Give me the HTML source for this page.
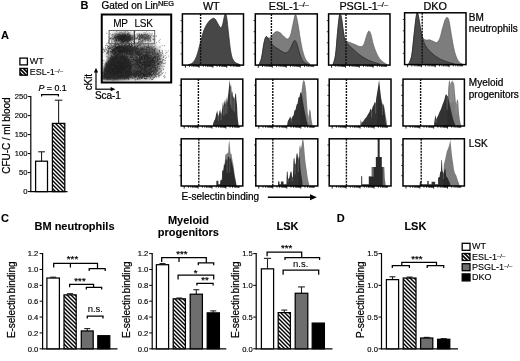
<!DOCTYPE html>
<html><head><meta charset="utf-8"><title>Figure</title><style>
html,body{margin:0;padding:0;background:#fff;}
svg{display:block;will-change:transform;filter:grayscale(1);}
text{font-family:"Liberation Sans",sans-serif;fill:#000;stroke:#000;stroke-width:0.24px;}
text[font-weight="bold"]{stroke-width:0.1px;}
</style></head><body>
<svg width="520" height="361" viewBox="0 0 520 361">
<defs>
<pattern id="hatch" patternUnits="userSpaceOnUse" width="4" height="4" patternTransform="translate(0,0)"><rect width="4" height="4" fill="#fff"/><path d="M-12,-4 L0,8 M-8,-4 L4,8 M-4,-4 L8,8 M0,-4 L12,8 " stroke="#000" stroke-width="1.42"/></pattern>
<pattern id="hatchS" patternUnits="userSpaceOnUse" width="4" height="4" patternTransform="translate(0,1)"><rect width="4" height="4" fill="#fff"/><path d="M-12,-4 L0,8 M-8,-4 L4,8 M-4,-4 L8,8 M0,-4 L12,8 " stroke="#000" stroke-width="1.6"/></pattern>
<filter id="blur1" x="-20%" y="-20%" width="140%" height="140%"><feGaussianBlur stdDeviation="0.45"/></filter>
<clipPath id="scclip"><rect x="102" y="15.5" width="68.5" height="66.5"/></clipPath>
</defs>
<rect x="0" y="0" width="520" height="361" fill="#fff"/>
<text x="1.0" y="39.2" font-size="11" font-weight="bold" text-anchor="start"  >A</text>
<rect x="19.9" y="58.1" width="7.5" height="6.8" fill="#fff" stroke="#000" stroke-width="1.3" />
<rect x="19.9" y="68.4" width="7.5" height="6.8" fill="url(#hatchS)" stroke="#000" stroke-width="1.3" />
<text x="29.8" y="64.4" font-size="9" font-weight="normal" text-anchor="start"  style="stroke-width:0.12px">WT</text>
<text x="29.8" y="74.7" font-size="9" font-weight="normal" text-anchor="start"  style="stroke-width:0.12px">ESL-1<tspan font-size="5.94" dy="-2.16">–/–</tspan></text>
<text x="38.5" y="90.7" font-size="8.8"><tspan font-style="italic">P</tspan> = 0.1</text>
<path d="M41.6,96.39999999999999 V94.6 H58.4 V96.39999999999999" stroke="#000" stroke-width="1.25" fill="none" />
<line x1="30.8" y1="95.9" x2="30.8" y2="192.1" stroke="#000" stroke-width="1.2" />
<line x1="30.3" y1="191.6" x2="67.5" y2="191.6" stroke="#000" stroke-width="1.2" />
<line x1="27.8" y1="191.6" x2="30.8" y2="191.6" stroke="#000" stroke-width="1.0" />
<text x="27.400000000000002" y="194.33599999999998" font-size="7.6" font-weight="normal" text-anchor="end"  style="stroke-width:0.15px">0</text>
<line x1="27.8" y1="172.6" x2="30.8" y2="172.6" stroke="#000" stroke-width="1.0" />
<text x="27.400000000000002" y="175.33599999999998" font-size="7.6" font-weight="normal" text-anchor="end"  style="stroke-width:0.15px">50</text>
<line x1="27.8" y1="153.6" x2="30.8" y2="153.6" stroke="#000" stroke-width="1.0" />
<text x="27.400000000000002" y="156.33599999999998" font-size="7.6" font-weight="normal" text-anchor="end"  style="stroke-width:0.15px">100</text>
<line x1="27.8" y1="134.6" x2="30.8" y2="134.6" stroke="#000" stroke-width="1.0" />
<text x="27.400000000000002" y="137.33599999999998" font-size="7.6" font-weight="normal" text-anchor="end"  style="stroke-width:0.15px">150</text>
<line x1="27.8" y1="115.6" x2="30.8" y2="115.6" stroke="#000" stroke-width="1.0" />
<text x="27.400000000000002" y="118.336" font-size="7.6" font-weight="normal" text-anchor="end"  style="stroke-width:0.15px">200</text>
<line x1="27.8" y1="96.6" x2="30.8" y2="96.6" stroke="#000" stroke-width="1.0" />
<text x="27.400000000000002" y="99.336" font-size="7.6" font-weight="normal" text-anchor="end"  style="stroke-width:0.15px">250</text>
<line x1="41.55" y1="161.2" x2="41.55" y2="151.8" stroke="#222" stroke-width="1.1" />
<line x1="38.15" y1="151.8" x2="44.949999999999996" y2="151.8" stroke="#222" stroke-width="1.1" />
<rect x="35.6" y="161.2" width="11.899999999999999" height="30.400000000000006" fill="#fff" stroke="#000" stroke-width="1.25" />
<line x1="58.599999999999994" y1="123.4" x2="58.599999999999994" y2="100.2" stroke="#222" stroke-width="1.1" />
<line x1="54.8" y1="100.2" x2="62.39999999999999" y2="100.2" stroke="#222" stroke-width="1.1" />
<rect x="52.4" y="123.4" width="12.399999999999999" height="68.19999999999999" fill="#fff" stroke="none" stroke-width="0" />
<rect x="52.4" y="123.4" width="12.399999999999999" height="68.19999999999999" fill="url(#hatch)" stroke="#000" stroke-width="1.25" />
<text transform="translate(9.9,135.6) rotate(-90)" font-size="10" font-weight="normal" text-anchor="middle" letter-spacing="-0.06">CFU-C / ml blood</text>
<text x="80.4" y="9.0" font-size="11" font-weight="bold" text-anchor="start"  >B</text>
<text x="101.6" y="9.2" font-size="10" letter-spacing="-0.07">Gated on Lin<tspan font-size="7.4" dy="-3.5">NEG</tspan></text>
<g clip-path="url(#scclip)">
<defs><filter id="blurS" x="-30%" y="-30%" width="160%" height="160%"><feGaussianBlur stdDeviation="1.1"/></filter><filter id="blurM" x="-30%" y="-30%" width="160%" height="160%"><feGaussianBlur stdDeviation="2.4"/></filter></defs>
<g filter="url(#blurM)">
<path d="M107,57 C107,49 111,45 121,44.5 L150,45 C158,46 161.5,54 161.5,62 C161.5,70 157,77 148,78.5 L128,79 L126,58 Z" fill="#525252" opacity="0.85"/>
<ellipse cx="144" cy="66" rx="13" ry="9" fill="#4a4a4a" opacity="0.55"/>
<ellipse cx="143.5" cy="37.5" rx="8.5" ry="3.6" fill="#777" opacity="0.65"/>
<ellipse cx="122.5" cy="37.5" rx="10.5" ry="4.8" fill="#3a3a3a" opacity="0.9"/>
</g>
<g filter="url(#blurS)">
<path d="M101.5,80 L102.3,72.5 C103.5,66.5 106,61 110,57 C114,53.5 121,53 126,55.5 C130.5,58 132,63 132,69 C132,74 131,77.5 128,79.5 L116,80.5 Z" fill="#262626" opacity="0.98"/>
<ellipse cx="125" cy="38.5" rx="7.5" ry="3.6" fill="#2e2e2e" opacity="0.85"/>
</g>
<path d="M116.8,70.6h.01M114.6,66.2h.01M110.3,69.2h.01M125.5,65.2h.01M124.5,64.6h.01M120.1,66.6h.01M108.5,77.5h.01M121.8,67.8h.01M109.8,67.7h.01M118.9,65.7h.01M118.6,61.7h.01M120.2,68.0h.01M117.6,78.4h.01M124.1,71.3h.01M110.8,65.3h.01M114.4,67.7h.01M121.9,66.0h.01M111.3,63.6h.01M117.1,75.3h.01M112.4,71.2h.01M115.5,57.6h.01M121.1,73.7h.01M102.8,72.5h.01M114.0,63.1h.01M120.1,64.9h.01M109.7,76.6h.01M124.1,69.6h.01M127.5,63.7h.01M114.0,59.7h.01M119.3,61.6h.01M110.4,62.0h.01M109.1,67.7h.01M119.6,51.7h.01M108.1,73.5h.01M128.2,64.9h.01M117.2,61.8h.01M112.4,76.2h.01M124.7,63.9h.01M119.9,68.4h.01M129.3,64.5h.01M122.0,68.0h.01M110.4,79.4h.01M124.8,66.4h.01M117.3,54.4h.01M118.7,73.0h.01M113.0,80.2h.01M120.2,64.2h.01M121.0,69.3h.01M121.1,72.6h.01M111.5,67.2h.01M123.9,63.4h.01M113.9,75.1h.01M125.4,59.4h.01M107.5,71.3h.01M115.2,66.0h.01M123.3,56.5h.01M121.6,55.8h.01M113.6,73.2h.01M126.9,67.5h.01M119.7,66.5h.01M119.7,69.5h.01M116.6,69.1h.01M120.8,64.9h.01M123.7,67.2h.01M131.2,61.5h.01M113.1,66.6h.01M119.6,71.9h.01M115.9,70.2h.01M121.7,46.9h.01M110.3,72.3h.01M120.3,66.8h.01M116.0,72.0h.01M117.4,63.2h.01M134.0,60.1h.01M113.1,68.5h.01M115.3,67.5h.01M120.3,57.2h.01M119.3,72.3h.01M126.9,71.8h.01M104.8,71.3h.01M116.5,71.5h.01M116.5,48.9h.01M120.0,55.5h.01M117.2,56.7h.01M121.6,72.7h.01M116.6,68.5h.01M122.7,64.9h.01M120.8,75.4h.01M123.1,61.7h.01M131.8,51.1h.01M122.3,62.3h.01M119.9,70.2h.01M120.3,69.6h.01M118.3,59.7h.01M106.0,63.0h.01M127.5,66.4h.01M124.0,56.8h.01M113.7,61.0h.01M126.6,72.6h.01M115.6,78.4h.01M123.0,62.5h.01M114.6,64.2h.01M120.8,67.7h.01M123.9,56.2h.01M128.8,70.7h.01M126.0,60.8h.01M115.0,75.0h.01M118.1,67.2h.01M125.6,60.5h.01M107.2,78.0h.01M117.3,62.6h.01M119.3,71.4h.01M121.3,73.7h.01M119.6,72.7h.01M131.4,70.1h.01M115.1,74.0h.01M107.2,79.7h.01M108.9,71.4h.01M115.7,67.5h.01M113.8,70.4h.01M128.9,60.8h.01M123.4,70.4h.01M112.1,61.1h.01M116.4,74.7h.01M104.4,69.8h.01M125.9,67.6h.01M119.4,71.2h.01M114.7,60.2h.01M104.9,69.3h.01M121.4,60.7h.01M108.8,66.2h.01M106.6,71.9h.01M110.3,73.2h.01M107.2,59.1h.01M121.0,62.9h.01M117.6,63.5h.01M124.3,68.1h.01M122.3,66.3h.01M127.7,65.7h.01M114.0,54.4h.01M126.7,70.7h.01M113.7,65.6h.01M124.7,50.8h.01M127.1,78.1h.01M112.9,74.0h.01M129.1,59.6h.01M123.3,69.7h.01M110.8,69.8h.01M121.3,70.3h.01M116.2,66.1h.01M109.3,68.8h.01M123.2,64.3h.01M109.0,65.6h.01M137.8,63.4h.01M113.7,51.1h.01M122.5,67.3h.01M129.3,63.2h.01M118.1,70.0h.01M107.2,79.4h.01M117.1,62.1h.01M130.9,71.8h.01M105.9,68.5h.01M119.4,66.9h.01M111.6,63.3h.01M133.9,64.8h.01M105.3,64.2h.01M131.1,66.1h.01M131.3,64.7h.01M112.0,71.5h.01M118.1,70.0h.01M111.9,69.0h.01M121.1,67.3h.01M121.8,65.8h.01M117.1,72.3h.01M114.9,62.5h.01M112.9,69.2h.01M116.7,68.2h.01M117.5,67.9h.01M112.5,60.9h.01M122.8,71.0h.01M119.3,64.4h.01M117.2,60.3h.01M104.7,74.1h.01M113.0,74.2h.01M114.7,79.0h.01M110.5,61.2h.01M113.5,72.5h.01M120.8,66.1h.01M128.8,65.4h.01M118.6,70.2h.01M130.7,66.2h.01M120.6,57.6h.01M118.1,71.4h.01M118.1,73.7h.01M123.5,69.6h.01M124.5,61.4h.01M117.3,72.8h.01M123.5,63.5h.01M109.9,72.2h.01M122.6,71.7h.01M122.2,64.3h.01M124.2,66.8h.01M118.5,66.5h.01M117.4,71.5h.01M108.3,67.5h.01M112.8,59.3h.01M108.4,58.0h.01M114.1,72.4h.01M120.6,64.7h.01M111.4,60.4h.01M130.5,63.1h.01M121.7,58.4h.01M110.5,58.1h.01M124.8,69.1h.01M104.4,73.5h.01M116.1,55.5h.01M108.8,61.9h.01M117.9,68.2h.01M123.2,68.4h.01M130.2,67.7h.01M106.9,69.1h.01M106.9,65.1h.01M116.5,67.3h.01M115.7,56.9h.01M108.8,71.3h.01M114.8,66.1h.01M114.4,63.2h.01M122.6,66.3h.01M114.5,63.8h.01M108.0,53.3h.01M110.6,70.7h.01M107.7,73.5h.01M114.0,59.2h.01M114.4,66.2h.01M121.8,68.6h.01M114.3,62.6h.01M115.9,67.2h.01M122.7,65.9h.01M108.3,62.5h.01M112.4,64.4h.01M109.3,70.4h.01M114.1,69.3h.01M119.3,62.9h.01M131.4,56.9h.01M124.6,63.7h.01M117.5,50.5h.01M112.8,71.0h.01M127.7,77.1h.01M122.8,72.6h.01M124.8,69.2h.01M119.9,64.3h.01M117.2,59.5h.01M121.8,57.4h.01M124.7,77.3h.01M115.6,67.9h.01M124.7,63.0h.01M112.4,71.3h.01M122.9,68.6h.01M117.0,79.0h.01M128.0,61.1h.01M117.5,63.8h.01M124.3,58.2h.01M120.1,62.1h.01M114.5,73.3h.01M125.7,62.2h.01M114.9,73.7h.01M117.6,68.8h.01M130.3,67.5h.01M119.3,71.1h.01M112.6,69.1h.01M122.5,55.7h.01M123.4,60.4h.01M115.7,65.6h.01M113.1,61.7h.01M113.0,59.3h.01M117.4,68.9h.01M119.4,64.1h.01M111.5,71.1h.01M118.3,77.0h.01M121.7,63.6h.01M111.9,65.0h.01M109.8,68.5h.01M120.4,68.7h.01M126.8,76.0h.01M112.4,69.6h.01M130.0,47.1h.01M114.1,69.8h.01M119.2,68.6h.01M116.5,69.8h.01M119.6,70.9h.01M114.0,61.6h.01M111.9,74.1h.01M114.5,72.7h.01M122.8,65.9h.01M120.0,64.6h.01M107.6,71.9h.01M118.5,62.6h.01M118.5,71.3h.01M113.1,73.5h.01M127.7,57.4h.01M117.5,65.7h.01M128.0,63.1h.01M120.9,60.1h.01M116.9,67.0h.01M117.9,54.6h.01M121.5,63.6h.01M121.0,67.3h.01M106.5,71.3h.01M125.2,58.6h.01M106.4,63.5h.01M109.9,73.2h.01M129.4,63.2h.01M125.0,77.9h.01M111.6,65.3h.01M122.1,68.0h.01M107.0,64.5h.01M119.6,67.3h.01M107.8,70.6h.01M114.8,71.4h.01M116.0,67.0h.01M117.7,73.8h.01M125.1,60.1h.01M120.4,60.0h.01M119.6,70.7h.01M125.9,59.5h.01M117.1,68.3h.01M107.2,72.5h.01M113.6,71.4h.01M103.9,60.7h.01M118.0,68.2h.01M115.9,73.7h.01M113.5,64.8h.01M115.6,57.0h.01M112.5,69.3h.01M122.1,63.1h.01M117.1,62.4h.01M123.8,74.7h.01M112.8,69.4h.01M121.1,71.8h.01M102.8,60.4h.01M123.3,69.0h.01M128.7,78.6h.01M119.1,67.6h.01M124.2,65.6h.01M124.4,54.5h.01M104.6,50.2h.01M121.3,62.1h.01M129.3,75.0h.01M116.2,65.7h.01M111.3,64.4h.01M114.7,72.6h.01M117.4,67.2h.01M118.5,72.4h.01M119.8,64.5h.01M120.9,63.8h.01M113.6,78.8h.01M117.3,60.3h.01M125.1,64.9h.01M121.8,70.5h.01M117.9,65.5h.01M109.6,77.7h.01M116.4,65.4h.01M119.5,66.1h.01M120.4,62.6h.01M110.6,55.9h.01M116.2,72.1h.01M124.8,60.3h.01M120.8,75.8h.01M117.0,72.0h.01M128.2,61.2h.01M123.0,58.8h.01M118.1,65.8h.01M121.0,72.5h.01M130.8,54.9h.01M114.6,71.7h.01M111.5,73.4h.01M120.0,63.5h.01M116.0,56.9h.01M117.6,56.1h.01M110.8,66.6h.01M116.8,73.0h.01M116.4,64.6h.01M125.1,73.4h.01M118.1,68.9h.01M125.9,64.0h.01M125.8,48.6h.01M117.9,69.3h.01M125.3,67.1h.01M112.2,62.4h.01M120.7,72.1h.01M106.9,65.5h.01M111.3,56.9h.01M114.0,65.6h.01M117.9,61.7h.01M110.1,68.1h.01M114.8,63.7h.01M119.2,70.9h.01M129.7,71.7h.01M110.6,67.6h.01M112.1,69.4h.01M116.5,58.0h.01M120.0,65.2h.01M105.8,75.1h.01M119.5,52.9h.01M122.9,65.2h.01M121.4,67.6h.01M124.9,61.1h.01M121.6,61.7h.01M119.4,60.1h.01M121.3,76.5h.01M119.5,64.6h.01M107.2,67.0h.01M121.0,71.3h.01M121.3,68.2h.01M120.6,74.3h.01M112.8,65.5h.01M123.0,64.1h.01M113.5,65.0h.01M117.1,71.2h.01M115.8,59.4h.01M120.3,66.4h.01M112.6,74.7h.01M114.2,66.2h.01M126.0,71.1h.01M113.7,71.8h.01M117.2,75.1h.01M115.1,73.6h.01M124.3,45.6h.01M115.6,71.2h.01M114.5,63.8h.01M131.4,59.7h.01M108.6,77.4h.01M109.0,79.3h.01M113.6,69.8h.01M125.6,63.1h.01M103.0,63.1h.01M126.9,66.6h.01M114.1,74.5h.01M122.1,68.6h.01M125.0,67.6h.01M115.7,50.9h.01M119.5,69.0h.01M131.1,52.8h.01M114.9,68.4h.01M121.6,61.5h.01M122.3,58.7h.01M117.2,63.3h.01M116.1,62.8h.01M109.6,78.5h.01M117.4,63.0h.01M121.2,71.5h.01M110.2,69.9h.01M122.1,67.8h.01M108.7,57.1h.01M126.1,64.3h.01M116.3,65.5h.01M117.5,63.8h.01M108.1,66.8h.01M111.3,65.9h.01M111.2,74.5h.01M110.3,75.2h.01M111.3,72.5h.01M126.6,63.1h.01M112.3,69.9h.01M113.0,57.3h.01M113.5,70.0h.01M114.1,69.1h.01M124.0,68.4h.01M124.7,66.8h.01M115.1,67.9h.01M114.3,66.3h.01M110.9,58.6h.01M114.7,68.1h.01M110.5,70.4h.01" stroke="#1f1f1f" stroke-width="0.9" stroke-linecap="round" opacity="0.8" fill="none"/>
<path d="M127.1,49.0h.01M139.6,41.7h.01M121.3,44.0h.01M130.8,57.5h.01M103.0,49.9h.01M127.2,48.6h.01M127.4,42.8h.01M129.8,50.6h.01M123.2,47.7h.01M128.1,48.0h.01M124.8,48.0h.01M105.0,49.4h.01M124.6,51.8h.01M116.0,49.4h.01M127.9,49.9h.01M132.9,55.5h.01M115.7,43.7h.01M129.9,54.1h.01M130.4,51.9h.01M118.1,47.4h.01M130.1,46.8h.01M108.5,46.5h.01M142.9,55.3h.01M117.5,47.3h.01M124.9,47.3h.01M133.5,49.3h.01M114.3,53.4h.01M118.3,50.2h.01M122.9,48.6h.01M125.6,47.4h.01M108.2,42.9h.01M112.9,47.2h.01M122.8,49.7h.01M127.4,49.9h.01M116.7,47.4h.01M106.0,49.0h.01M126.9,51.1h.01M122.0,49.0h.01M130.5,49.5h.01M128.9,51.2h.01M124.7,53.4h.01M118.4,48.4h.01M116.5,47.1h.01M135.4,54.8h.01M123.2,51.2h.01M132.4,51.9h.01M132.6,45.7h.01M117.9,50.9h.01M134.5,49.8h.01M116.1,48.4h.01M117.7,46.9h.01M135.0,47.6h.01M123.2,56.0h.01M132.5,50.5h.01M118.1,50.7h.01M136.0,51.4h.01M133.1,49.8h.01M127.1,48.9h.01M126.4,53.4h.01M111.6,49.3h.01M124.9,47.8h.01M120.5,51.9h.01M139.0,51.4h.01M125.6,44.8h.01M138.4,49.7h.01M122.7,46.1h.01M122.5,46.2h.01M123.6,50.9h.01M123.2,50.3h.01M116.2,53.8h.01M117.8,44.0h.01M121.5,47.2h.01M114.9,48.4h.01M125.3,46.0h.01M121.9,53.8h.01M128.5,49.0h.01M124.0,49.1h.01M122.6,51.7h.01M122.3,42.3h.01M122.8,46.8h.01M128.2,47.7h.01M124.2,56.0h.01M114.6,46.1h.01M111.7,42.3h.01M108.0,50.6h.01M117.9,43.9h.01M111.1,51.4h.01M116.8,48.4h.01M125.6,53.6h.01M138.5,52.6h.01M124.1,50.1h.01M137.4,53.8h.01M120.5,50.9h.01M125.3,49.7h.01M119.0,45.5h.01M118.7,44.9h.01M132.8,51.1h.01M113.4,53.7h.01M130.1,43.8h.01M137.7,51.9h.01M139.5,45.8h.01M127.2,50.8h.01M124.6,50.0h.01M131.4,45.0h.01M113.1,45.3h.01M118.5,47.7h.01M125.9,50.3h.01M123.3,47.5h.01M119.5,52.4h.01M129.1,49.8h.01M120.4,54.2h.01M118.2,51.4h.01M132.2,48.7h.01M129.6,46.2h.01M131.1,50.1h.01M110.3,51.5h.01M115.9,53.3h.01M117.6,49.0h.01M125.3,48.5h.01M125.1,47.8h.01M128.4,49.5h.01M124.7,41.2h.01M132.3,49.6h.01M108.7,49.8h.01M126.7,52.7h.01M114.3,54.1h.01M121.7,56.7h.01M121.8,51.5h.01M120.1,46.2h.01M131.8,52.2h.01M135.3,52.1h.01M118.4,44.5h.01M117.8,47.5h.01M116.5,51.2h.01M125.6,48.7h.01M124.4,49.1h.01M124.7,51.8h.01M130.7,47.4h.01M110.9,53.8h.01M123.9,52.8h.01M109.9,48.5h.01M123.2,45.2h.01M118.9,51.7h.01M131.6,54.3h.01M116.1,45.3h.01M127.2,52.3h.01M124.5,45.6h.01M129.3,51.9h.01M127.4,48.0h.01M125.4,51.9h.01M118.5,44.0h.01M125.6,50.9h.01M123.1,52.2h.01M118.3,49.3h.01M120.6,51.2h.01M135.8,48.7h.01M139.4,54.1h.01M129.3,51.3h.01M137.2,49.0h.01M122.1,46.3h.01M126.8,53.5h.01M127.3,50.8h.01M121.4,50.0h.01M111.6,52.6h.01M119.7,46.2h.01M117.0,47.0h.01M129.8,52.7h.01M112.1,52.3h.01M130.1,47.8h.01M111.1,47.3h.01M117.9,50.5h.01M120.1,43.4h.01M124.9,44.9h.01M130.2,45.9h.01M117.5,46.9h.01M118.7,53.4h.01M129.8,51.3h.01M125.6,44.9h.01M118.8,47.8h.01M115.2,51.0h.01M117.1,47.4h.01M114.6,43.3h.01M127.8,53.5h.01M124.4,46.6h.01M132.7,50.4h.01M130.4,53.9h.01M132.0,48.2h.01M131.4,51.8h.01M110.7,48.3h.01M111.6,49.2h.01M127.6,46.3h.01M106.6,53.4h.01M126.0,53.9h.01M112.4,52.7h.01M139.6,55.5h.01M121.3,50.3h.01M121.8,52.5h.01M131.3,49.8h.01M112.1,51.7h.01M119.2,51.4h.01M125.1,54.4h.01M132.1,48.1h.01M125.8,54.8h.01M118.7,50.8h.01M132.5,53.3h.01M127.1,45.5h.01M112.9,50.2h.01M126.1,57.1h.01M116.1,52.9h.01M129.2,44.5h.01M116.5,50.0h.01M119.1,49.0h.01M126.8,47.1h.01M126.7,47.6h.01M118.6,51.1h.01M118.4,50.4h.01M135.8,49.6h.01M121.8,51.7h.01M120.1,52.7h.01M112.7,51.4h.01M118.9,47.1h.01M137.2,46.9h.01M137.1,51.5h.01M134.6,46.6h.01M132.6,53.9h.01M122.1,49.1h.01M142.6,50.0h.01M119.6,47.6h.01M126.6,50.5h.01M124.4,54.7h.01M120.4,50.9h.01M134.7,46.5h.01M131.3,55.0h.01M112.2,46.2h.01M114.7,44.0h.01M126.6,43.9h.01M127.0,53.9h.01M110.1,48.6h.01M107.7,51.8h.01M117.1,48.7h.01M123.4,51.1h.01M120.2,49.5h.01M118.6,49.8h.01M113.6,49.7h.01M107.5,48.0h.01M138.3,49.7h.01M112.9,50.3h.01M115.2,44.5h.01M117.1,51.7h.01M126.1,49.2h.01M115.6,46.3h.01M133.8,50.2h.01M115.4,43.2h.01M112.0,56.9h.01M113.8,49.3h.01M124.7,49.0h.01M120.8,45.4h.01M114.6,54.6h.01M116.9,52.0h.01M109.4,48.7h.01M125.1,52.6h.01M114.0,51.3h.01M126.1,47.3h.01M126.8,46.8h.01M116.6,49.4h.01M115.0,45.1h.01M119.6,51.8h.01M119.8,53.3h.01M113.7,45.6h.01M135.4,50.7h.01M130.6,47.0h.01M129.4,50.3h.01M128.2,49.6h.01M132.7,47.6h.01M115.3,45.1h.01M132.3,47.3h.01M114.7,46.7h.01M119.4,45.7h.01M120.7,47.6h.01M118.6,46.6h.01M123.3,48.1h.01M123.9,50.2h.01M125.7,42.9h.01M118.7,47.1h.01M129.2,44.8h.01M117.3,48.6h.01M120.3,52.5h.01M119.5,52.4h.01M111.3,44.1h.01M132.8,50.8h.01M126.9,49.9h.01M126.9,45.9h.01M130.6,47.9h.01M130.9,49.8h.01M107.2,45.6h.01M132.0,49.1h.01M119.8,50.2h.01M119.6,47.9h.01M123.8,49.9h.01M135.1,49.6h.01M138.0,54.9h.01M136.7,52.7h.01M124.0,49.9h.01M121.9,47.3h.01M122.5,47.6h.01M136.1,51.1h.01M119.4,43.8h.01M122.6,48.3h.01M114.3,46.1h.01M105.0,51.2h.01M122.5,57.2h.01M122.8,49.1h.01M134.6,49.9h.01M124.3,48.4h.01M118.2,54.0h.01M131.0,54.6h.01M120.2,49.6h.01M116.0,52.4h.01M111.9,51.2h.01M131.8,53.7h.01M115.5,52.8h.01M117.3,47.2h.01M112.4,53.0h.01M136.2,47.7h.01M116.9,48.5h.01M143.1,52.5h.01M118.7,44.1h.01M117.6,53.1h.01M137.9,48.7h.01M117.5,48.0h.01M107.9,52.2h.01M114.3,52.7h.01M109.3,45.7h.01M125.3,47.2h.01M129.3,49.5h.01M113.6,51.4h.01M129.7,43.8h.01M137.6,51.0h.01M129.1,43.9h.01M117.2,48.5h.01M131.6,45.1h.01M115.9,43.4h.01M121.1,50.5h.01M109.5,47.7h.01M127.1,54.3h.01M128.3,48.6h.01M113.6,46.7h.01M117.7,49.9h.01M122.6,54.5h.01M125.3,46.3h.01M135.4,52.3h.01M123.8,47.3h.01M108.0,46.4h.01M130.3,47.1h.01M112.4,50.1h.01M125.0,51.3h.01M128.2,53.7h.01M116.3,52.4h.01M115.1,51.6h.01M124.4,50.2h.01M130.7,49.4h.01M131.9,52.1h.01M124.1,47.8h.01M117.0,47.9h.01M121.4,49.4h.01M146.8,51.4h.01M129.2,46.9h.01M117.3,48.5h.01M124.5,46.4h.01M135.9,47.8h.01M131.6,42.5h.01M122.9,50.3h.01M124.5,51.3h.01M125.2,50.0h.01M107.9,47.4h.01M104.3,51.4h.01M125.5,48.9h.01M116.4,47.8h.01M137.8,54.7h.01M122.5,53.4h.01M110.3,43.7h.01M119.1,46.9h.01M118.5,50.1h.01M147.2,47.5h.01M123.4,50.3h.01M122.7,52.3h.01M137.2,45.8h.01M124.3,48.7h.01M125.9,44.9h.01M108.9,42.6h.01M127.2,50.1h.01M123.6,42.4h.01M120.0,47.2h.01M111.7,46.8h.01M128.6,51.1h.01M122.8,51.0h.01M118.2,49.7h.01M123.3,51.2h.01M122.4,49.1h.01M121.9,47.6h.01M140.9,51.0h.01M126.4,56.4h.01M134.2,44.8h.01M128.6,52.0h.01M138.1,53.4h.01M129.2,46.0h.01M116.0,50.3h.01M127.0,46.4h.01M119.9,48.3h.01M123.5,50.5h.01M120.7,45.8h.01M132.9,54.3h.01M122.2,52.6h.01M126.6,51.5h.01M126.9,47.2h.01M127.6,52.5h.01M115.8,55.4h.01M139.7,55.0h.01M138.9,51.7h.01M120.3,47.7h.01M116.5,49.8h.01M122.7,51.5h.01M106.8,56.4h.01M141.2,49.4h.01M128.4,50.9h.01M125.2,48.9h.01M122.0,47.0h.01M124.4,49.4h.01M125.6,46.9h.01M123.3,49.6h.01M127.8,46.3h.01M126.4,52.4h.01M127.8,48.4h.01M119.1,48.8h.01M128.8,54.2h.01M121.7,47.6h.01M126.0,50.1h.01M115.7,47.3h.01M122.2,51.5h.01M113.5,46.4h.01M127.0,45.8h.01M123.9,50.6h.01M122.1,46.4h.01M122.5,48.5h.01M125.7,47.0h.01M131.7,44.5h.01M121.6,49.5h.01M130.7,47.7h.01M127.4,47.8h.01M128.9,54.7h.01M119.8,50.8h.01M115.6,52.4h.01M132.7,49.6h.01M113.9,50.7h.01M132.2,52.8h.01M129.5,44.0h.01M117.6,53.8h.01M113.2,52.9h.01M138.1,51.8h.01M132.0,48.5h.01M113.2,49.2h.01M121.4,49.4h.01M128.6,49.1h.01M124.5,50.8h.01M123.0,55.0h.01M126.5,49.8h.01M121.3,47.6h.01M133.8,50.0h.01M114.4,47.8h.01M121.9,48.2h.01M131.7,46.0h.01M126.9,49.9h.01M113.6,49.6h.01M122.2,51.0h.01M119.4,50.4h.01M109.7,46.2h.01M129.3,52.6h.01M122.9,47.7h.01M131.7,43.2h.01M116.6,51.5h.01M128.2,46.4h.01M107.9,53.9h.01M124.2,46.8h.01M123.4,52.2h.01M128.9,43.3h.01M129.2,44.2h.01M132.1,50.7h.01M141.0,47.7h.01M123.0,52.6h.01M117.9,47.4h.01M120.0,49.3h.01M114.3,51.0h.01M127.3,49.7h.01M136.6,48.5h.01M133.5,47.9h.01M129.0,43.7h.01M124.6,49.0h.01M119.0,47.7h.01M120.2,47.3h.01M105.5,47.7h.01M118.6,47.9h.01M114.5,49.1h.01M129.3,48.7h.01M119.1,53.6h.01M130.8,52.3h.01M132.2,48.5h.01M122.0,52.8h.01M118.6,49.1h.01M126.0,50.6h.01M120.8,52.5h.01M121.6,51.7h.01M131.6,51.5h.01M128.9,46.0h.01M112.5,47.6h.01M126.8,54.0h.01M113.2,50.4h.01M116.2,47.3h.01M120.8,51.6h.01M124.7,53.0h.01M115.1,52.2h.01M130.4,49.7h.01M126.8,47.8h.01M114.3,48.3h.01M117.9,58.2h.01M119.1,54.5h.01M124.6,50.4h.01M128.9,47.2h.01M130.3,50.6h.01M110.9,51.3h.01M127.4,50.9h.01M135.7,48.3h.01M127.1,51.7h.01M115.8,53.1h.01M111.4,45.6h.01M127.2,46.2h.01M122.1,44.6h.01M123.6,46.1h.01M125.7,44.9h.01M126.6,48.7h.01M123.5,49.3h.01M124.0,45.5h.01M115.5,48.1h.01M126.4,43.5h.01M116.9,47.7h.01M114.5,50.5h.01M121.9,47.0h.01M115.1,51.9h.01M117.7,51.3h.01M126.6,43.8h.01M114.3,49.5h.01M125.7,51.8h.01M129.4,52.6h.01M120.0,48.9h.01M129.2,48.2h.01M131.5,44.7h.01M128.2,49.0h.01M107.3,52.4h.01M125.5,49.6h.01M114.4,48.1h.01M135.1,47.0h.01M113.4,49.1h.01M119.9,46.8h.01M116.3,52.6h.01M111.5,55.4h.01M118.6,46.2h.01M129.3,51.2h.01M114.7,51.7h.01M108.3,46.7h.01M132.0,48.7h.01M112.6,51.0h.01M130.3,49.4h.01M108.5,48.5h.01M126.3,51.8h.01M137.8,48.7h.01M119.1,49.4h.01M132.6,46.7h.01M133.4,41.3h.01M129.4,47.5h.01M126.7,51.6h.01M113.5,49.2h.01M124.9,51.3h.01M115.6,46.5h.01M107.6,57.1h.01M121.5,48.8h.01M111.0,52.3h.01M118.7,53.8h.01M129.8,49.6h.01M128.8,46.2h.01M120.4,47.8h.01M112.8,49.6h.01M121.8,53.8h.01M115.7,48.1h.01M126.4,50.7h.01M123.2,48.1h.01M127.0,50.6h.01M108.3,48.7h.01M112.0,46.0h.01M124.2,49.7h.01M123.9,46.9h.01M121.4,46.8h.01M126.1,51.6h.01M137.0,53.3h.01M116.6,48.1h.01M115.5,50.4h.01M138.8,51.6h.01M105.4,45.7h.01M112.7,51.0h.01M123.0,50.4h.01M137.3,47.0h.01M116.2,55.4h.01M125.7,47.2h.01M106.8,44.9h.01M103.4,49.7h.01M123.4,52.5h.01M121.9,47.4h.01M117.1,55.2h.01M108.9,50.0h.01M123.2,51.4h.01M119.8,51.0h.01M129.5,49.1h.01M119.3,48.9h.01M115.3,48.9h.01M120.6,50.1h.01M133.7,53.4h.01M119.4,51.3h.01M125.4,51.8h.01M123.2,50.3h.01M119.2,47.1h.01M130.0,53.4h.01M128.3,50.8h.01M125.1,48.1h.01M108.7,51.5h.01M124.6,47.8h.01M115.3,53.3h.01M108.6,54.8h.01M128.1,56.6h.01M117.3,49.4h.01M118.9,50.0h.01M121.3,47.3h.01M131.6,47.1h.01M118.9,51.2h.01M118.7,48.2h.01M125.8,48.4h.01M113.0,49.2h.01M121.2,54.6h.01M114.2,52.4h.01M116.7,48.4h.01M120.4,50.3h.01M129.9,54.7h.01M117.9,53.5h.01M131.0,51.9h.01M116.9,52.2h.01M122.1,50.6h.01M120.8,51.5h.01M131.9,52.9h.01M121.4,52.5h.01M134.6,46.7h.01M134.8,45.5h.01M127.3,51.3h.01M134.9,50.3h.01M119.2,47.1h.01M113.0,51.8h.01M121.1,47.3h.01M127.3,47.2h.01M119.5,48.1h.01M136.2,53.9h.01M121.7,44.8h.01M125.2,49.7h.01M125.8,51.2h.01M120.4,52.3h.01M129.7,50.1h.01M119.7,48.1h.01M128.5,46.2h.01M121.7,47.3h.01M111.9,51.3h.01M122.8,49.6h.01M130.0,45.0h.01M122.5,50.4h.01M129.7,46.2h.01M128.7,50.2h.01M133.8,52.9h.01M127.4,55.9h.01M123.0,48.2h.01M120.3,46.7h.01M122.8,43.9h.01M122.3,50.8h.01M130.9,48.5h.01M134.1,47.5h.01M121.9,43.9h.01M116.9,47.1h.01M134.7,51.1h.01M114.4,51.1h.01M126.8,48.8h.01M123.2,48.6h.01M118.8,44.3h.01M122.3,53.3h.01M134.2,48.7h.01M117.2,48.9h.01M130.0,50.5h.01M118.4,50.6h.01M121.4,51.0h.01M119.8,45.2h.01M123.5,51.7h.01M114.4,49.2h.01M129.8,48.4h.01M117.9,55.4h.01M129.5,52.5h.01M115.6,54.3h.01M110.1,48.0h.01M128.8,53.4h.01M115.8,47.6h.01M124.5,43.9h.01M128.0,51.1h.01M119.5,51.1h.01M129.0,50.4h.01M127.1,53.9h.01M119.3,50.0h.01M118.9,52.5h.01M119.8,50.9h.01M124.1,49.7h.01M136.3,49.3h.01M134.0,51.9h.01M133.2,49.0h.01M130.2,51.7h.01M118.2,50.3h.01M122.0,49.4h.01M133.1,47.4h.01M110.0,44.5h.01M119.5,47.6h.01M123.1,51.1h.01M136.6,50.4h.01M126.6,47.4h.01M127.5,53.4h.01M133.3,43.8h.01M129.9,54.1h.01M129.4,45.2h.01M120.6,51.2h.01M126.2,47.2h.01M116.1,52.3h.01M112.7,53.6h.01M123.2,50.4h.01M112.7,47.8h.01M128.3,45.3h.01M138.9,45.4h.01M113.6,49.6h.01M126.7,51.6h.01M120.1,48.9h.01M121.2,47.8h.01M103.2,52.3h.01M124.9,50.0h.01M118.2,50.2h.01M122.9,49.3h.01M131.5,44.5h.01M124.9,46.4h.01M120.6,53.8h.01M114.7,49.2h.01M118.5,52.2h.01M115.5,44.7h.01M126.9,48.5h.01M120.5,52.6h.01M116.2,48.4h.01M124.1,50.7h.01M119.0,52.5h.01M140.2,48.3h.01M137.4,43.4h.01M133.8,48.5h.01M124.1,48.5h.01M118.1,45.8h.01M120.0,53.2h.01M131.8,48.5h.01M118.9,47.5h.01M113.8,54.7h.01M128.1,49.8h.01M119.2,46.6h.01M133.1,51.7h.01M115.7,52.3h.01M114.5,51.3h.01M115.6,48.3h.01M126.8,50.7h.01M130.8,47.1h.01M135.1,53.4h.01M122.9,50.8h.01M117.0,49.1h.01M112.9,49.8h.01M124.5,53.4h.01M130.3,51.8h.01M120.2,48.9h.01M120.4,50.1h.01M108.2,51.7h.01M111.0,48.0h.01M123.2,48.0h.01M135.8,49.2h.01M135.1,52.9h.01M119.2,50.7h.01M133.0,48.5h.01M123.7,47.9h.01M123.5,48.5h.01M123.6,52.4h.01M133.7,49.9h.01M124.6,52.0h.01M120.8,46.5h.01M131.5,46.8h.01M130.1,46.7h.01M137.1,46.5h.01M129.5,53.8h.01M115.6,53.8h.01M116.7,44.4h.01M128.5,51.5h.01M121.4,42.2h.01M122.6,48.6h.01M120.1,48.7h.01M109.3,47.9h.01M136.8,54.0h.01M120.2,47.4h.01M126.0,52.6h.01M128.6,46.1h.01M124.2,49.9h.01M134.0,52.9h.01M127.0,53.0h.01M120.0,53.9h.01M119.7,50.6h.01M130.1,46.9h.01M117.6,44.4h.01M124.3,49.3h.01M120.5,50.9h.01M106.7,49.4h.01M123.7,48.7h.01M129.1,54.5h.01M119.6,46.8h.01M118.4,49.8h.01M127.5,47.0h.01M130.7,46.5h.01M129.4,50.7h.01M126.6,55.7h.01M121.0,49.0h.01M126.7,52.0h.01M112.7,50.3h.01M117.3,51.3h.01M133.5,49.6h.01M122.2,50.0h.01M127.3,50.0h.01M120.0,47.4h.01M121.6,53.0h.01M122.2,53.4h.01M103.2,48.2h.01M125.1,49.5h.01M110.3,47.6h.01M132.6,45.8h.01M115.4,46.3h.01M118.8,51.4h.01M127.6,43.7h.01M134.2,47.8h.01M118.5,54.3h.01M122.4,45.9h.01M118.1,47.4h.01M115.2,48.5h.01M129.7,50.5h.01M112.4,57.5h.01M115.4,49.8h.01M123.2,51.7h.01M120.5,50.8h.01M139.2,49.8h.01M114.7,50.4h.01M116.8,48.4h.01M124.4,50.5h.01M120.8,51.9h.01M121.5,45.7h.01M129.7,48.5h.01M132.3,47.6h.01M127.4,50.4h.01M114.4,53.6h.01M108.5,52.1h.01M131.4,50.9h.01M128.2,48.1h.01M122.9,50.1h.01M126.2,51.5h.01M121.4,47.5h.01M118.7,50.7h.01M110.2,45.9h.01M119.8,47.9h.01M120.9,41.8h.01M120.4,48.8h.01M129.0,43.8h.01M120.6,50.9h.01M126.8,52.9h.01M131.1,46.5h.01M127.9,48.5h.01M116.8,53.9h.01M118.2,47.0h.01M119.9,47.0h.01M130.7,50.6h.01M133.8,50.7h.01" stroke="#222" stroke-width="0.86" stroke-linecap="round" opacity="0.78" fill="none"/>
<path d="M119.1,40.6h.01M118.8,36.8h.01M121.6,38.1h.01M129.2,36.5h.01M124.5,37.9h.01M115.5,35.3h.01M121.3,39.0h.01M124.3,39.2h.01M122.8,36.9h.01M124.9,35.5h.01M115.0,37.2h.01M114.5,36.7h.01M118.3,36.6h.01M122.2,36.0h.01M120.1,33.7h.01M123.3,35.8h.01M124.8,30.9h.01M118.0,38.6h.01M108.9,37.1h.01M123.0,38.3h.01M114.1,38.6h.01M123.3,35.6h.01M126.7,37.9h.01M122.6,36.9h.01M125.6,38.2h.01M128.9,39.1h.01M119.0,37.4h.01M127.6,37.1h.01M124.6,39.3h.01M121.5,32.2h.01M123.2,38.5h.01M123.3,36.1h.01M129.3,37.7h.01M119.0,36.2h.01M124.5,35.3h.01M116.9,43.0h.01M129.8,40.6h.01M130.2,39.5h.01M113.0,41.0h.01M129.5,39.2h.01M111.5,41.1h.01M130.2,36.8h.01M123.2,40.0h.01M122.0,40.8h.01M123.0,39.7h.01M123.0,34.3h.01M116.9,46.0h.01M124.1,41.3h.01M128.9,42.3h.01M125.6,36.5h.01M122.6,33.2h.01M121.4,40.3h.01M110.3,38.5h.01M127.1,41.3h.01M117.3,36.4h.01M111.9,35.4h.01M125.5,43.2h.01M116.1,41.5h.01M124.9,36.8h.01M134.9,31.6h.01M122.1,38.6h.01M134.5,42.5h.01M135.3,38.3h.01M128.0,41.4h.01M125.4,38.9h.01M121.5,37.0h.01M115.6,42.9h.01M120.0,32.7h.01M124.0,37.9h.01M123.5,42.6h.01M121.9,37.3h.01M118.3,37.9h.01M120.0,38.5h.01M140.1,39.0h.01M117.7,42.9h.01M127.4,40.1h.01M126.5,40.1h.01M126.3,41.6h.01M128.2,41.4h.01M119.7,38.0h.01M118.4,40.4h.01M127.2,36.8h.01M125.8,44.6h.01M129.5,35.2h.01M122.0,39.6h.01M122.3,39.0h.01M129.2,38.8h.01M116.3,39.8h.01M121.9,38.3h.01M119.3,34.5h.01M115.5,37.1h.01M116.5,31.1h.01M129.0,35.1h.01M118.4,39.3h.01M108.9,41.4h.01M118.2,39.7h.01M119.8,38.8h.01M123.1,38.0h.01M112.2,34.3h.01M122.3,41.6h.01M119.4,39.3h.01M123.4,39.2h.01M128.1,34.2h.01M124.1,37.5h.01M120.7,35.8h.01M118.1,35.4h.01M116.3,44.4h.01M132.1,38.0h.01M126.7,35.5h.01M106.8,33.4h.01M123.3,41.6h.01M122.3,35.5h.01M121.1,35.5h.01M114.6,37.4h.01M120.2,35.9h.01M117.5,35.6h.01M123.8,41.5h.01M121.3,43.7h.01M113.4,38.7h.01M116.0,37.6h.01M123.1,39.4h.01M128.9,36.6h.01M115.5,37.5h.01M124.2,36.2h.01M127.6,42.3h.01M114.5,38.9h.01M128.2,33.1h.01M123.7,37.4h.01M114.5,41.3h.01M123.7,36.8h.01M125.0,39.6h.01M126.8,39.5h.01M124.8,35.0h.01M120.1,38.3h.01M106.9,43.4h.01M120.4,35.3h.01M112.2,38.6h.01M122.7,36.5h.01M120.1,35.7h.01M118.3,37.8h.01M118.9,39.7h.01M121.7,38.3h.01M124.8,41.2h.01M125.9,38.6h.01M121.6,36.0h.01M120.6,39.7h.01M123.8,37.0h.01M115.0,34.1h.01M124.3,40.6h.01M124.6,34.5h.01M121.3,38.6h.01M117.3,38.9h.01M121.4,35.9h.01M115.5,40.1h.01M124.5,35.8h.01M116.8,40.3h.01M125.9,37.2h.01M131.5,37.3h.01M116.5,40.8h.01M121.4,38.9h.01M122.7,35.5h.01M115.8,37.5h.01M130.4,35.5h.01M130.2,38.6h.01M116.2,38.7h.01M125.7,35.7h.01M110.5,38.9h.01M116.2,39.1h.01M111.7,37.6h.01M117.9,34.3h.01M121.1,38.4h.01M119.4,35.0h.01M123.7,33.6h.01M125.5,39.2h.01M132.0,40.2h.01M124.5,38.7h.01M122.7,34.6h.01M130.7,39.3h.01M120.9,35.1h.01M130.9,39.3h.01M115.8,39.7h.01M133.2,37.9h.01M124.8,36.9h.01M119.0,40.7h.01M139.9,38.3h.01M121.8,40.0h.01M120.8,39.8h.01M127.2,35.4h.01M116.5,37.8h.01M127.2,38.7h.01M129.5,34.5h.01M125.3,36.4h.01M123.1,38.8h.01M117.0,37.4h.01M115.9,38.7h.01M117.7,36.8h.01M123.7,36.4h.01M129.0,36.4h.01M127.3,38.7h.01M116.7,37.4h.01M117.8,37.1h.01M121.0,42.6h.01M120.1,42.0h.01M125.0,34.7h.01M109.5,39.7h.01M111.3,39.8h.01M128.3,39.0h.01M121.3,37.4h.01M124.0,37.2h.01M119.5,37.1h.01M129.1,36.4h.01M124.6,35.1h.01M118.5,34.5h.01M121.4,39.7h.01M124.2,36.8h.01M125.9,37.1h.01M124.6,38.7h.01M125.5,31.8h.01M115.2,39.9h.01M121.9,43.6h.01M121.2,36.6h.01M130.9,39.4h.01M133.2,39.3h.01M121.4,39.8h.01M118.1,36.9h.01M119.4,37.4h.01M126.9,36.8h.01M124.3,36.7h.01M127.5,31.1h.01M121.3,38.4h.01M116.5,40.5h.01M123.7,41.2h.01M127.9,39.6h.01M121.7,35.3h.01M121.3,36.8h.01M123.9,36.8h.01M139.6,34.0h.01M129.1,36.8h.01M121.1,40.3h.01M122.5,35.0h.01M124.8,37.5h.01M111.0,38.5h.01M116.6,36.1h.01M125.2,38.8h.01M120.9,43.4h.01M124.8,36.5h.01M123.8,37.7h.01M110.2,34.0h.01M114.7,43.2h.01M121.5,37.3h.01M119.3,40.5h.01M122.7,42.3h.01M126.9,42.1h.01M121.8,38.9h.01M120.1,37.6h.01M112.8,36.5h.01M117.2,36.4h.01M129.3,38.7h.01M129.4,40.2h.01M127.6,40.5h.01M119.1,40.0h.01M120.7,36.7h.01M129.2,43.4h.01M117.0,42.4h.01M127.1,35.9h.01M124.0,38.9h.01M124.6,37.1h.01M115.3,38.1h.01M127.3,40.0h.01M126.2,40.8h.01M117.0,37.9h.01M124.4,40.5h.01M123.4,39.3h.01M123.2,43.3h.01M110.3,37.9h.01M136.3,38.6h.01M112.3,38.3h.01M114.5,36.3h.01M123.8,42.3h.01M125.1,39.7h.01M128.2,38.5h.01M117.7,37.8h.01M124.4,37.3h.01M118.8,37.1h.01M114.1,35.4h.01M122.0,37.1h.01M122.7,41.5h.01M124.2,37.9h.01M115.9,35.3h.01M124.6,35.8h.01M124.9,35.3h.01M123.2,37.8h.01M128.1,37.0h.01M120.4,38.6h.01M122.8,42.2h.01M121.1,36.7h.01M120.7,39.2h.01M123.8,39.7h.01M114.8,44.2h.01M132.8,37.9h.01M115.8,38.4h.01M124.8,32.4h.01M122.6,34.3h.01M125.1,41.5h.01M128.3,34.2h.01M130.2,40.3h.01M120.5,39.3h.01M131.0,37.2h.01M122.4,36.6h.01M129.0,32.6h.01M130.4,35.6h.01M127.7,33.9h.01M117.3,36.5h.01M127.1,33.9h.01M125.9,36.4h.01M129.4,37.2h.01M125.2,37.6h.01M132.5,37.1h.01M122.4,43.0h.01M122.9,39.7h.01M118.4,38.5h.01M109.8,38.3h.01M118.9,34.2h.01M114.6,40.9h.01M124.9,34.2h.01M132.6,36.3h.01M120.4,38.6h.01M116.2,34.0h.01M118.3,41.0h.01M127.8,34.0h.01M129.2,38.1h.01M125.3,38.1h.01M124.8,35.5h.01M117.4,36.2h.01M120.4,39.5h.01M115.7,42.0h.01M119.0,36.5h.01M126.4,39.1h.01M120.6,35.3h.01M116.9,34.0h.01M128.9,40.7h.01M132.9,39.2h.01M124.4,39.9h.01M127.8,37.4h.01M124.5,43.4h.01M113.0,34.5h.01M117.1,39.9h.01M129.1,37.2h.01M126.2,37.9h.01M124.2,36.6h.01M122.3,38.0h.01M128.8,43.6h.01M112.4,39.3h.01M122.5,40.4h.01M128.4,40.0h.01M127.0,35.6h.01M113.0,42.2h.01M129.3,35.6h.01M129.7,39.7h.01M108.8,40.3h.01M117.0,40.9h.01M118.7,36.1h.01M113.9,37.5h.01M128.2,36.3h.01M112.1,43.4h.01M132.8,39.7h.01M119.5,35.0h.01M113.3,39.4h.01M129.8,35.3h.01M122.5,37.3h.01M121.1,39.3h.01M134.2,36.4h.01M127.2,40.7h.01M120.9,37.6h.01M115.0,40.7h.01M119.5,36.4h.01M122.9,35.8h.01M116.7,37.3h.01M130.8,37.5h.01M125.4,34.3h.01" stroke="#262626" stroke-width="0.84" stroke-linecap="round" opacity="0.75" fill="none"/>
<path d="M129.0,74.8h.01M141.7,50.2h.01M144.1,65.9h.01M130.8,55.0h.01M147.1,54.7h.01M151.5,68.6h.01M148.6,58.4h.01M144.6,56.9h.01M143.9,63.8h.01M142.5,68.6h.01M166.3,57.5h.01M147.8,67.5h.01M150.3,59.8h.01M141.1,68.9h.01M150.1,65.2h.01M138.4,66.1h.01M151.5,60.1h.01M150.3,77.4h.01M129.6,66.0h.01M135.4,51.5h.01M143.1,65.5h.01M145.4,52.9h.01M133.2,57.4h.01M145.1,55.4h.01M132.6,74.4h.01M138.1,60.4h.01M140.5,57.2h.01M145.3,59.3h.01M150.1,52.8h.01M132.8,75.8h.01M144.4,67.1h.01M154.7,65.6h.01M145.3,50.1h.01M131.8,68.7h.01M150.6,65.7h.01M131.3,45.8h.01M136.3,52.8h.01M146.3,54.0h.01M158.0,56.9h.01M140.4,67.9h.01M147.7,54.9h.01M151.8,75.7h.01M134.9,59.7h.01M136.1,47.2h.01M150.2,66.6h.01M153.0,64.7h.01M128.4,61.3h.01M139.5,52.8h.01M135.9,67.1h.01M142.6,76.0h.01M148.9,47.4h.01M152.4,70.7h.01M145.3,52.5h.01M159.6,51.8h.01M144.3,47.4h.01M134.6,48.9h.01M154.0,70.2h.01M141.6,51.5h.01M144.5,64.3h.01M132.4,52.9h.01M144.2,66.7h.01M145.6,64.8h.01M134.7,43.1h.01M147.6,54.7h.01M144.0,58.7h.01M149.0,55.8h.01M157.0,61.7h.01M149.4,66.2h.01M153.6,64.5h.01M130.5,56.8h.01M160.4,65.0h.01M149.7,65.0h.01M139.7,56.5h.01M139.6,70.1h.01M148.0,74.7h.01M149.1,75.6h.01M148.8,52.7h.01M159.5,64.0h.01M154.9,63.1h.01M142.3,62.8h.01M135.7,52.6h.01M137.6,57.6h.01M133.7,60.7h.01M147.5,76.6h.01M160.3,61.1h.01M152.4,59.9h.01M148.3,61.2h.01M140.5,62.1h.01M132.7,64.8h.01M142.6,53.4h.01M142.0,65.6h.01M139.3,65.0h.01M149.8,73.1h.01M135.9,60.7h.01M149.3,72.7h.01M147.2,67.1h.01M132.7,57.1h.01M158.9,59.4h.01M163.1,56.0h.01M142.7,49.6h.01M150.3,63.5h.01M161.9,62.7h.01M142.9,50.9h.01M144.3,68.6h.01M151.2,70.7h.01M152.3,61.2h.01M150.1,62.8h.01M133.8,74.3h.01M148.1,53.6h.01M148.2,63.7h.01M153.4,72.3h.01M119.5,65.7h.01M157.9,54.4h.01M129.4,63.6h.01M147.8,64.1h.01M135.7,58.0h.01M146.6,67.1h.01M163.4,63.7h.01M139.9,43.7h.01M154.0,60.5h.01M144.1,54.1h.01M151.2,48.0h.01M145.9,62.4h.01M147.5,71.3h.01M144.2,62.2h.01M152.2,49.8h.01M142.5,62.0h.01M153.1,55.5h.01M151.8,64.4h.01M132.5,50.3h.01M132.9,62.6h.01M146.7,67.0h.01M151.9,57.3h.01M154.0,67.7h.01M149.0,65.1h.01M134.1,64.2h.01M136.3,52.5h.01M142.0,62.6h.01M144.5,59.0h.01M136.6,62.9h.01M138.7,50.9h.01M145.8,72.5h.01M141.6,53.5h.01M156.7,74.4h.01M142.5,59.9h.01M146.1,69.0h.01M148.8,47.7h.01M135.7,52.2h.01M148.7,62.3h.01M160.1,59.5h.01M147.6,62.1h.01M146.2,79.0h.01M147.4,72.6h.01M156.0,56.9h.01M150.8,58.6h.01M145.9,62.7h.01M145.2,57.9h.01M158.2,59.5h.01M151.0,74.2h.01M150.3,69.3h.01M156.8,69.7h.01M159.6,50.7h.01M161.6,61.7h.01M130.2,56.6h.01M133.2,61.3h.01M132.4,53.9h.01M147.5,62.7h.01M138.2,59.7h.01M144.2,62.1h.01M144.9,59.8h.01M152.5,49.3h.01M140.8,62.5h.01M141.6,57.3h.01M141.3,63.1h.01M155.6,60.1h.01M142.7,64.2h.01M142.9,46.8h.01M147.3,58.6h.01M140.1,66.3h.01M145.4,57.2h.01M126.5,48.4h.01M145.1,60.6h.01M148.7,63.2h.01M140.9,51.9h.01M135.7,60.4h.01M135.2,67.2h.01M133.7,47.9h.01M143.4,48.0h.01M158.8,54.0h.01M144.6,59.6h.01M138.0,48.1h.01M129.2,68.1h.01M153.7,77.9h.01M132.6,65.8h.01M144.9,67.9h.01M140.6,67.0h.01M152.6,66.1h.01M157.3,60.2h.01M158.1,56.2h.01M159.2,40.6h.01M145.1,55.4h.01M145.0,69.3h.01M151.1,62.2h.01M159.5,50.3h.01M138.1,73.0h.01M147.8,45.7h.01M147.9,52.5h.01M157.6,70.2h.01M140.4,71.3h.01M137.9,68.5h.01M149.9,60.5h.01M132.9,59.4h.01M125.5,57.2h.01M129.3,70.7h.01M136.8,43.0h.01M150.0,64.3h.01M140.7,77.6h.01M151.6,62.0h.01M139.5,39.0h.01M149.1,68.8h.01M140.0,50.8h.01M144.6,48.8h.01M145.1,67.4h.01M157.8,63.5h.01M146.7,67.2h.01M156.9,59.1h.01M134.6,55.5h.01M134.3,54.7h.01M144.0,64.1h.01M146.3,62.0h.01M142.0,64.7h.01M152.5,67.3h.01M157.7,59.3h.01M142.9,74.4h.01M146.7,64.6h.01M142.1,68.9h.01M141.6,53.8h.01M144.5,58.1h.01M152.1,58.6h.01M146.0,59.9h.01M147.9,56.7h.01M154.4,50.7h.01M141.7,56.1h.01M150.5,61.8h.01M149.1,59.0h.01M138.9,53.0h.01M142.2,57.4h.01M147.4,64.2h.01M153.3,60.7h.01M138.6,53.4h.01M145.5,64.2h.01M161.6,62.9h.01M159.9,75.7h.01M136.1,70.7h.01M154.7,71.7h.01M144.9,68.8h.01M140.9,61.0h.01M145.2,75.0h.01M143.2,68.8h.01M145.6,56.1h.01M147.1,66.5h.01M138.9,66.3h.01M138.9,54.8h.01M146.9,59.7h.01M136.6,49.1h.01M145.2,63.3h.01M141.1,62.9h.01M132.0,64.5h.01M148.5,63.6h.01M139.8,62.1h.01M146.1,69.6h.01M147.3,63.4h.01M138.8,68.1h.01M155.0,57.7h.01M150.4,63.8h.01M144.6,51.7h.01M159.9,47.3h.01M147.6,58.6h.01M154.7,58.3h.01M145.3,66.1h.01M148.9,57.6h.01M150.8,64.5h.01M153.4,57.6h.01M144.6,58.5h.01M137.9,63.4h.01M148.5,72.3h.01M142.2,64.4h.01M154.7,60.6h.01M145.5,62.5h.01M139.1,54.0h.01M154.5,62.8h.01M144.4,52.1h.01M146.0,70.4h.01M135.2,54.7h.01M154.4,72.3h.01M158.2,57.3h.01M150.1,55.8h.01M149.4,58.7h.01M146.7,71.7h.01M147.9,59.7h.01M145.5,63.5h.01M140.7,63.1h.01M150.1,73.3h.01M127.6,52.5h.01M134.5,68.1h.01M165.6,63.0h.01M146.0,70.1h.01M124.4,60.1h.01M118.7,62.7h.01M140.7,57.8h.01M147.9,57.1h.01M154.4,61.5h.01M141.2,68.5h.01M138.0,70.9h.01M153.1,62.6h.01M153.4,73.6h.01M156.6,61.5h.01M144.5,69.9h.01M132.6,57.0h.01M149.1,65.8h.01M160.7,74.8h.01M147.7,64.8h.01M133.9,60.1h.01M147.2,59.8h.01M145.5,66.1h.01M137.0,57.2h.01M130.0,70.1h.01M136.1,48.7h.01M151.5,59.9h.01M153.1,58.7h.01M162.9,66.9h.01M146.3,62.4h.01M143.3,67.6h.01M161.8,58.3h.01M135.9,66.0h.01M154.0,50.3h.01M139.2,54.0h.01M149.7,65.3h.01M138.8,53.0h.01M150.7,46.1h.01M150.4,60.3h.01M161.1,69.0h.01M140.1,59.4h.01M142.7,56.0h.01M145.7,68.7h.01M132.4,59.8h.01M157.5,67.1h.01M138.2,55.5h.01M137.8,49.5h.01M154.6,62.0h.01M139.2,50.8h.01M141.8,57.7h.01M159.4,58.1h.01M146.0,69.5h.01M150.6,60.1h.01M126.7,72.0h.01M150.0,58.3h.01M144.3,54.4h.01M137.5,50.4h.01M149.2,65.4h.01M146.5,67.3h.01M149.5,62.4h.01M137.6,65.9h.01M154.9,66.2h.01M155.4,58.0h.01M136.8,70.8h.01M140.1,63.3h.01M143.4,61.7h.01M142.7,57.5h.01M130.1,75.7h.01M146.7,47.1h.01M137.4,53.1h.01M138.8,42.5h.01M149.8,73.7h.01M142.9,67.0h.01M150.0,52.2h.01M155.2,48.9h.01M140.2,58.8h.01M155.5,62.4h.01M144.0,55.5h.01M145.8,61.8h.01M151.1,71.9h.01M151.1,61.6h.01M143.7,73.4h.01M146.7,61.4h.01M160.0,73.2h.01M149.7,60.7h.01M139.7,69.4h.01M141.2,68.6h.01M138.5,62.3h.01M148.3,62.6h.01M146.9,64.3h.01M135.7,53.2h.01M143.8,74.9h.01M144.0,54.6h.01M139.5,61.8h.01M154.8,57.3h.01M149.7,62.9h.01M142.0,54.5h.01M143.7,56.1h.01M149.5,48.4h.01M154.4,67.1h.01M149.8,72.6h.01M150.0,48.8h.01M145.4,64.8h.01M139.3,53.1h.01M148.6,65.3h.01M141.5,59.7h.01M140.8,57.3h.01M144.5,69.5h.01M131.6,59.0h.01M158.4,63.9h.01M146.3,67.7h.01M136.7,52.5h.01M131.2,50.7h.01M147.1,67.8h.01M141.5,56.5h.01M148.3,66.0h.01M147.1,47.4h.01M140.5,42.7h.01M147.0,55.2h.01M139.6,72.6h.01M155.9,65.1h.01M147.3,62.8h.01M140.2,61.1h.01M160.8,55.0h.01M139.5,62.7h.01M152.4,67.7h.01M137.0,60.5h.01M142.8,52.4h.01M145.6,57.9h.01M152.6,64.7h.01M138.5,62.1h.01M142.1,56.8h.01M141.0,69.4h.01M141.6,48.8h.01M138.6,67.5h.01M162.8,53.7h.01M142.1,59.1h.01M133.4,64.5h.01M144.6,63.6h.01M163.5,59.5h.01M151.6,67.7h.01M139.7,57.1h.01M157.9,66.8h.01M146.2,53.4h.01M152.3,65.4h.01M163.2,72.4h.01M151.6,63.5h.01M145.5,57.4h.01M147.6,63.3h.01M150.4,69.5h.01M147.6,57.5h.01M151.7,73.0h.01M138.1,64.6h.01M149.5,65.5h.01M149.2,60.8h.01M144.2,74.0h.01M159.3,51.1h.01M124.0,64.7h.01M139.4,57.7h.01M131.8,64.1h.01M144.6,57.5h.01M152.4,79.5h.01M157.2,70.2h.01M141.6,66.4h.01M144.7,70.0h.01M149.8,61.2h.01M149.6,56.2h.01M151.5,72.6h.01M142.0,65.6h.01M131.2,68.4h.01M152.3,54.0h.01M159.4,62.3h.01M130.7,51.4h.01M152.2,59.5h.01M154.1,50.1h.01M144.2,68.7h.01M139.4,66.5h.01M142.0,64.0h.01M147.7,78.0h.01M134.8,67.3h.01M155.8,53.2h.01M145.7,78.6h.01M153.7,39.6h.01M143.0,48.9h.01M147.5,56.1h.01M140.4,55.3h.01M147.4,58.1h.01M137.5,59.8h.01M148.4,55.2h.01M154.2,49.2h.01M148.4,58.6h.01M158.0,56.8h.01M139.5,51.6h.01M161.4,66.1h.01M136.0,59.0h.01M137.1,72.7h.01M148.5,46.5h.01M146.7,68.3h.01M145.0,65.0h.01M144.1,63.0h.01M146.8,56.3h.01M147.9,62.7h.01M144.7,56.5h.01M136.6,63.3h.01M151.8,43.6h.01M140.6,71.5h.01M152.6,56.2h.01M156.2,54.2h.01M138.5,75.8h.01M141.4,59.9h.01M131.4,54.0h.01M135.3,60.5h.01M129.8,69.4h.01M142.1,57.0h.01M139.8,67.0h.01M157.7,58.5h.01M158.3,73.4h.01M156.1,63.7h.01M132.7,66.5h.01M141.6,62.9h.01M129.4,59.4h.01M146.9,54.6h.01M147.4,73.9h.01M146.9,56.4h.01M164.7,45.6h.01M137.4,64.5h.01M140.1,44.5h.01M147.2,67.6h.01M138.4,72.3h.01M149.1,70.3h.01M132.4,61.5h.01M158.2,76.4h.01M155.9,61.5h.01M146.5,56.9h.01M154.1,56.4h.01M146.0,46.2h.01M132.5,74.7h.01M145.5,63.1h.01M126.8,61.3h.01M162.2,50.4h.01M125.3,60.3h.01M140.6,59.9h.01M134.6,51.4h.01M134.8,66.3h.01M144.6,67.6h.01M136.1,65.9h.01M141.3,62.2h.01M152.7,61.7h.01M142.1,49.1h.01M145.5,67.3h.01M139.7,61.0h.01M130.3,51.6h.01M148.4,71.1h.01M142.4,49.1h.01M141.8,49.9h.01M142.7,75.9h.01M147.5,60.4h.01M153.6,58.7h.01M147.8,63.0h.01M148.7,50.6h.01M150.9,68.1h.01M126.0,41.3h.01M137.5,72.6h.01M145.2,66.6h.01M149.6,68.1h.01M139.7,57.1h.01M148.1,66.0h.01M149.8,64.0h.01M141.0,69.7h.01M148.9,69.4h.01M123.8,69.0h.01M124.6,63.1h.01M139.4,62.4h.01M141.0,59.2h.01M146.6,64.1h.01M138.3,42.6h.01M138.5,65.6h.01M137.9,64.7h.01M141.9,54.4h.01M154.8,73.9h.01M144.1,61.1h.01M153.0,51.5h.01M137.7,70.0h.01M152.6,57.8h.01M138.5,64.1h.01M133.2,57.8h.01M143.1,43.0h.01M150.0,67.2h.01M154.0,50.7h.01M134.2,55.4h.01M134.0,76.9h.01M136.8,59.1h.01M146.7,64.9h.01M157.2,53.3h.01M152.4,62.6h.01M135.1,62.6h.01M133.2,73.7h.01M138.9,69.1h.01M156.0,56.8h.01M137.4,62.5h.01M136.2,68.3h.01M146.5,55.7h.01M139.2,67.0h.01M132.8,74.2h.01M138.4,60.0h.01M137.2,73.8h.01M152.0,71.3h.01M150.5,62.2h.01M159.3,66.5h.01M148.7,65.9h.01M151.2,63.6h.01M143.6,49.4h.01M162.4,51.7h.01M126.8,56.1h.01M161.4,70.7h.01M139.9,63.5h.01M144.8,46.5h.01M142.2,63.7h.01M154.9,52.4h.01M125.9,49.6h.01M147.8,62.1h.01M146.3,62.6h.01M141.9,51.1h.01M148.8,64.4h.01M149.9,71.0h.01M134.5,43.8h.01M129.9,77.7h.01M137.2,64.5h.01M144.9,67.0h.01M172.3,57.6h.01M143.6,57.0h.01M147.1,65.5h.01M136.8,71.5h.01M154.7,64.9h.01M144.1,59.7h.01M131.0,66.5h.01M136.7,57.7h.01M153.5,54.5h.01M140.6,68.0h.01M160.8,56.3h.01M154.4,56.5h.01M148.3,65.2h.01M135.3,69.3h.01M160.3,61.9h.01M147.3,52.6h.01M160.2,62.0h.01M134.2,67.3h.01M132.6,56.3h.01M126.9,72.0h.01M163.8,56.7h.01M139.4,57.1h.01M140.2,65.7h.01M157.4,53.8h.01M148.7,47.8h.01M158.0,60.8h.01M139.0,73.1h.01M144.1,71.9h.01M154.1,74.1h.01M138.2,61.9h.01M148.1,60.0h.01M157.9,56.1h.01M153.5,71.9h.01M128.4,54.1h.01M137.3,57.3h.01M148.3,60.2h.01M145.7,58.0h.01M144.3,65.2h.01M151.3,55.6h.01M144.0,55.7h.01M143.5,50.6h.01M153.1,66.6h.01M144.0,56.3h.01M141.1,56.4h.01M131.9,73.9h.01M173.0,52.2h.01M135.1,65.9h.01M150.1,49.5h.01M128.7,65.6h.01M128.1,72.3h.01M140.8,62.2h.01M145.0,57.2h.01M143.8,59.2h.01M155.6,60.8h.01M144.7,57.5h.01M139.6,55.9h.01M145.1,75.5h.01M154.5,63.3h.01M159.2,69.2h.01M146.8,60.2h.01M135.7,63.4h.01M142.3,49.5h.01M134.1,76.2h.01M146.8,65.3h.01M146.7,58.0h.01M148.9,69.7h.01M142.4,65.4h.01M153.7,57.8h.01M146.4,55.9h.01M150.1,58.7h.01M154.7,55.7h.01M159.4,59.1h.01M137.9,54.6h.01M150.6,55.0h.01M160.3,71.2h.01M149.4,50.7h.01M144.8,56.0h.01M129.6,64.7h.01M163.7,57.4h.01M151.9,71.3h.01M136.8,58.9h.01M147.3,65.1h.01M135.3,63.1h.01M144.1,68.7h.01M131.4,57.2h.01M140.7,59.1h.01M151.1,56.7h.01M168.3,56.1h.01M152.1,69.3h.01M153.2,59.9h.01M137.9,59.6h.01M150.7,62.4h.01M149.9,65.9h.01M137.5,54.4h.01M157.3,57.8h.01M131.5,75.6h.01M137.9,54.4h.01M153.2,52.9h.01M137.6,69.5h.01M146.1,61.9h.01M139.5,59.8h.01M140.7,61.3h.01M151.6,51.8h.01M137.2,45.6h.01M157.8,60.9h.01M144.9,61.1h.01M153.5,63.9h.01M152.2,60.2h.01M144.0,61.1h.01M129.2,69.8h.01M131.6,53.9h.01M150.7,61.9h.01M151.9,74.5h.01M160.8,72.0h.01M143.1,77.1h.01M137.5,60.8h.01M153.5,59.9h.01M144.0,58.8h.01M156.6,42.7h.01M155.8,69.6h.01M144.4,65.8h.01M136.8,69.9h.01M171.0,54.5h.01M156.9,61.1h.01M142.1,57.8h.01M143.4,52.0h.01M133.5,74.1h.01M144.9,65.7h.01M147.6,65.1h.01M132.0,54.3h.01M150.4,69.1h.01M135.3,57.1h.01M135.9,66.5h.01M147.9,61.7h.01M139.5,64.1h.01M145.3,55.8h.01M147.8,56.4h.01M153.1,66.3h.01M139.2,66.0h.01M145.6,56.1h.01M137.2,48.9h.01M135.4,64.1h.01M155.3,56.7h.01M146.4,64.1h.01M151.6,64.9h.01M155.4,67.3h.01M138.5,64.5h.01M125.1,60.1h.01M145.2,65.9h.01M142.4,67.8h.01M156.2,55.1h.01M140.4,63.5h.01M149.2,62.6h.01M152.1,52.5h.01M151.6,70.4h.01M154.4,64.7h.01M143.0,64.5h.01M144.4,49.4h.01M139.9,61.2h.01M140.6,54.4h.01M143.0,58.7h.01M145.6,61.1h.01M146.5,69.0h.01M146.2,64.6h.01M134.6,39.1h.01M141.6,66.6h.01M142.1,56.8h.01M134.5,68.3h.01M140.5,63.4h.01M154.6,65.6h.01M164.1,60.5h.01M153.1,66.8h.01M139.4,61.9h.01M140.2,53.7h.01M147.5,55.6h.01M159.3,55.9h.01M140.4,62.2h.01M140.6,61.9h.01M139.8,50.7h.01M124.5,51.7h.01M157.9,64.9h.01M146.3,58.0h.01M143.8,63.8h.01M133.2,55.4h.01M137.4,71.1h.01M136.0,70.4h.01M144.3,61.7h.01M156.5,68.1h.01M153.0,53.4h.01M154.7,74.3h.01M144.1,57.8h.01M135.7,69.2h.01M147.5,61.6h.01M134.5,73.8h.01M152.4,61.3h.01M157.5,54.3h.01M152.5,53.9h.01M157.0,59.4h.01M155.4,58.3h.01M148.4,70.2h.01M137.3,62.2h.01M137.9,68.0h.01M139.9,58.7h.01M143.3,70.4h.01M136.1,61.3h.01M142.2,57.3h.01M138.3,60.3h.01M146.7,49.7h.01M147.0,52.5h.01M145.1,78.8h.01M136.8,61.0h.01M142.8,69.0h.01M141.0,47.9h.01M131.3,62.8h.01M147.2,69.6h.01M140.4,66.6h.01M136.0,71.3h.01M144.4,56.3h.01M146.5,74.7h.01M137.8,52.1h.01M136.4,52.7h.01M144.6,64.2h.01M143.6,63.0h.01M155.1,59.3h.01M134.4,44.1h.01M147.1,56.3h.01M142.9,64.6h.01M148.9,49.6h.01M136.9,62.1h.01M143.8,70.2h.01M140.7,45.8h.01M154.9,49.1h.01M136.8,64.5h.01M147.0,65.6h.01M141.3,78.3h.01M149.6,56.1h.01M155.7,48.7h.01M140.0,63.7h.01M146.2,54.2h.01M158.4,72.7h.01M137.1,64.3h.01M139.6,58.2h.01M153.4,62.5h.01M144.1,62.3h.01M135.0,70.8h.01M138.6,71.4h.01M141.1,58.0h.01M157.6,63.0h.01M139.6,57.4h.01M150.1,75.7h.01M150.2,58.5h.01M135.5,56.4h.01M144.0,63.4h.01M139.4,71.2h.01M136.9,56.1h.01M149.2,65.2h.01M141.7,68.8h.01M133.0,73.9h.01M163.6,76.3h.01M146.0,76.5h.01M145.5,71.6h.01M143.3,63.0h.01M149.5,48.2h.01M143.2,74.6h.01M120.2,64.4h.01M152.8,64.0h.01M146.7,72.0h.01M147.9,47.1h.01M137.0,59.2h.01M146.2,58.1h.01M144.1,74.2h.01M120.1,70.3h.01M153.0,66.1h.01M145.1,62.0h.01M148.1,63.3h.01M138.9,67.4h.01M138.0,61.2h.01M142.0,52.8h.01M150.1,61.0h.01M135.1,60.9h.01M133.3,72.4h.01M149.4,76.6h.01M140.2,66.9h.01M136.8,55.0h.01M144.2,64.6h.01M152.8,59.5h.01M154.4,68.8h.01M137.6,60.1h.01M137.2,74.4h.01M140.3,68.2h.01M152.7,59.6h.01M140.9,64.1h.01M138.4,51.9h.01M136.8,64.1h.01M146.6,74.8h.01M129.5,65.3h.01M135.2,70.2h.01M150.9,62.5h.01M157.5,58.7h.01M140.5,53.5h.01M139.4,62.4h.01M150.7,71.2h.01M142.7,56.0h.01M142.2,58.3h.01M141.0,58.5h.01M137.6,61.1h.01M140.7,60.2h.01M133.3,62.6h.01M149.8,66.4h.01M140.4,52.9h.01M134.0,52.6h.01M139.6,59.2h.01M130.0,66.6h.01M132.0,56.3h.01M138.9,67.8h.01M160.5,58.8h.01M142.7,58.5h.01M143.3,60.2h.01M165.8,53.3h.01M144.1,55.6h.01M148.0,57.6h.01M149.8,53.4h.01M162.8,63.1h.01M130.1,66.8h.01M141.0,52.8h.01M148.7,57.6h.01M151.2,57.4h.01M152.6,62.6h.01M148.0,62.7h.01M141.9,58.8h.01M148.8,66.8h.01M141.6,78.3h.01M159.2,52.9h.01M154.1,61.0h.01M147.0,55.6h.01M158.9,55.3h.01M144.3,56.1h.01M161.2,70.9h.01M133.9,58.1h.01M148.1,58.3h.01M142.0,53.4h.01M147.1,53.3h.01M152.0,79.5h.01M142.3,73.8h.01M148.1,56.5h.01M142.1,54.3h.01M146.0,66.7h.01M152.8,59.4h.01M135.0,60.9h.01M159.0,63.6h.01M144.5,46.0h.01M141.4,65.6h.01M137.1,71.6h.01M140.3,55.0h.01M140.1,60.8h.01M153.4,57.3h.01M130.1,60.9h.01M149.4,73.0h.01M135.6,72.6h.01M150.7,64.9h.01M138.6,54.9h.01M137.0,68.5h.01M146.8,69.5h.01M160.2,61.7h.01M144.6,75.8h.01M134.1,58.2h.01M141.9,58.7h.01M146.2,55.3h.01M154.7,51.4h.01M138.2,48.9h.01M133.3,65.9h.01M150.3,60.1h.01M152.1,66.1h.01M140.2,61.2h.01M148.1,76.5h.01M141.3,64.3h.01M149.6,70.6h.01M148.6,69.5h.01M136.1,59.6h.01M128.8,61.2h.01M164.5,63.3h.01M145.7,63.5h.01M146.2,51.7h.01M139.2,60.2h.01M146.4,55.1h.01M144.1,56.1h.01M134.0,56.6h.01M138.3,67.8h.01M156.2,65.8h.01M143.2,57.4h.01M131.9,57.6h.01M158.1,70.1h.01M146.9,59.7h.01M145.0,64.7h.01M144.9,64.7h.01M138.6,61.9h.01M142.1,69.5h.01M134.6,71.2h.01M144.3,57.8h.01M145.2,62.5h.01M143.1,64.7h.01M140.2,49.0h.01M150.8,61.4h.01M158.9,64.4h.01M128.3,70.8h.01M139.3,65.6h.01M163.5,69.6h.01M135.9,60.9h.01M131.6,66.5h.01M149.7,54.0h.01M148.8,68.5h.01M151.7,56.6h.01M139.2,53.3h.01M134.2,63.9h.01M145.3,71.2h.01M147.3,59.2h.01M133.1,73.0h.01M146.4,61.3h.01M136.6,53.8h.01M150.3,54.4h.01M149.9,66.2h.01M141.8,49.6h.01M148.4,72.0h.01M138.1,52.2h.01M154.1,62.6h.01M139.8,70.6h.01M142.7,64.9h.01M141.6,56.0h.01M146.8,55.2h.01M130.2,57.6h.01M155.3,69.7h.01M163.1,68.9h.01M158.5,63.4h.01M141.4,65.0h.01M137.1,67.0h.01M141.3,63.5h.01M137.9,60.6h.01M153.2,60.0h.01M139.4,63.7h.01M152.3,60.2h.01M135.3,50.1h.01M133.8,69.4h.01M144.3,65.1h.01M154.0,63.7h.01M149.0,57.9h.01M131.6,66.2h.01M144.2,65.8h.01M136.1,60.5h.01M161.8,55.4h.01M145.8,71.2h.01M143.1,62.5h.01M127.2,67.3h.01M141.3,71.0h.01M144.2,58.8h.01M148.6,59.8h.01M140.7,72.9h.01M153.2,62.4h.01M151.7,67.6h.01M149.8,61.9h.01M145.6,64.6h.01M149.7,64.2h.01M140.4,61.0h.01M148.8,54.4h.01M144.9,67.1h.01M146.4,59.5h.01M144.8,58.1h.01M153.2,58.8h.01M131.1,52.8h.01M147.5,63.1h.01M141.1,52.0h.01M143.8,55.5h.01M139.5,61.6h.01M138.6,63.9h.01M138.8,58.2h.01M143.1,72.3h.01M158.1,68.5h.01M138.9,61.6h.01M152.6,67.5h.01M131.5,61.2h.01M138.8,67.1h.01M150.3,57.7h.01M162.8,59.6h.01M165.3,60.4h.01M144.3,75.4h.01M140.6,58.2h.01M157.3,61.3h.01M149.0,52.5h.01M159.9,68.8h.01M148.0,66.8h.01M140.8,58.2h.01M131.9,64.3h.01M155.3,67.8h.01M152.7,66.8h.01M137.3,52.1h.01M150.3,62.8h.01M153.2,59.6h.01M137.7,64.8h.01M140.4,49.7h.01M139.9,55.3h.01M135.7,57.6h.01M152.9,78.7h.01M159.4,58.6h.01M154.5,61.1h.01M148.3,56.7h.01M144.4,49.5h.01M159.9,56.1h.01M149.9,57.4h.01M147.2,53.1h.01M141.9,68.2h.01M149.9,47.6h.01M152.1,52.1h.01M147.4,65.4h.01M139.7,59.3h.01M143.0,64.5h.01M152.6,71.5h.01M147.7,76.0h.01M137.1,74.5h.01M142.8,67.2h.01M144.0,62.2h.01M137.4,64.4h.01M161.8,62.7h.01M144.8,61.7h.01M150.9,60.2h.01M145.0,63.2h.01M155.8,68.5h.01M136.2,57.1h.01M145.2,67.7h.01M153.1,60.1h.01M162.7,60.4h.01M156.7,71.9h.01M158.3,63.1h.01M149.8,50.6h.01M130.2,57.2h.01M151.0,69.3h.01M144.1,69.1h.01M149.8,72.6h.01M131.8,55.6h.01M137.0,54.1h.01M158.7,54.9h.01M138.1,58.8h.01M152.4,58.3h.01M151.1,65.6h.01M139.7,44.6h.01M137.4,52.6h.01M158.6,56.4h.01M136.1,64.3h.01M145.5,54.9h.01M154.1,68.2h.01M147.3,56.1h.01M137.7,46.8h.01M148.2,64.5h.01M137.3,61.8h.01M172.3,53.5h.01M130.8,66.0h.01M141.5,58.0h.01M150.2,60.7h.01M153.3,65.3h.01M154.7,62.5h.01M127.0,71.4h.01M130.8,69.1h.01M147.1,51.6h.01M145.6,68.0h.01M136.5,61.9h.01M138.8,54.4h.01M139.9,70.8h.01M150.7,61.4h.01M144.3,62.5h.01M147.4,62.9h.01M130.7,68.2h.01M137.9,42.8h.01M150.9,52.9h.01M143.8,60.9h.01M140.1,65.5h.01M142.7,59.6h.01M137.0,59.6h.01M136.4,61.9h.01M156.0,68.9h.01M148.6,51.7h.01M153.6,68.3h.01M162.2,45.3h.01M145.1,59.2h.01M154.1,53.7h.01M141.8,78.3h.01M153.3,47.2h.01M145.2,71.5h.01M139.8,65.9h.01M145.8,51.0h.01M139.8,69.8h.01M154.9,57.2h.01M154.4,56.4h.01M147.1,61.4h.01M134.6,63.9h.01M141.8,41.7h.01M138.1,55.4h.01M138.0,54.5h.01M139.2,43.8h.01M152.4,62.1h.01M147.1,59.6h.01M145.5,59.7h.01M135.9,50.6h.01M145.6,68.9h.01M147.0,73.2h.01M133.6,59.6h.01M139.8,70.5h.01M159.2,57.8h.01M151.1,59.8h.01M136.7,60.7h.01M136.3,72.8h.01M149.9,70.2h.01M148.0,43.9h.01M151.7,62.2h.01M125.1,62.3h.01M153.5,74.0h.01M136.4,67.3h.01M147.8,60.3h.01M142.6,65.4h.01M149.8,66.3h.01M141.6,52.0h.01M156.0,71.0h.01M140.3,61.3h.01M151.8,48.8h.01M149.2,79.1h.01M147.3,56.4h.01M162.1,61.6h.01M146.8,58.4h.01M146.5,48.5h.01M134.3,50.8h.01M152.5,60.9h.01M154.6,46.7h.01M140.0,72.1h.01M138.4,48.0h.01M138.8,59.0h.01M144.9,71.0h.01M156.1,72.8h.01M149.9,57.9h.01M140.9,50.8h.01M155.6,70.6h.01M145.7,55.0h.01M150.6,65.1h.01M146.3,53.1h.01M147.0,57.4h.01M151.2,65.9h.01M148.7,58.4h.01M157.7,67.2h.01M155.6,67.6h.01M150.5,64.4h.01M136.1,48.3h.01M137.2,66.0h.01M152.6,62.8h.01M145.7,74.9h.01M141.7,48.5h.01M132.1,59.2h.01M150.8,66.9h.01M143.2,67.5h.01M144.6,56.2h.01M141.8,67.0h.01M153.0,53.3h.01M136.8,62.4h.01M162.7,53.0h.01M134.6,64.6h.01M149.2,57.1h.01M144.8,65.0h.01M130.5,61.3h.01M150.0,68.2h.01M154.7,61.0h.01M133.0,71.3h.01M151.4,56.9h.01M153.6,69.1h.01M143.8,44.3h.01M141.1,56.0h.01M138.0,60.9h.01M136.0,64.3h.01M160.7,52.8h.01M153.7,57.6h.01M149.5,60.6h.01M155.7,56.3h.01M151.1,55.9h.01M146.9,61.4h.01M154.1,50.0h.01M133.8,71.6h.01M148.2,73.9h.01M136.4,63.0h.01M150.0,74.4h.01M144.6,58.2h.01M151.0,60.8h.01M138.8,67.1h.01M129.2,54.1h.01M156.3,57.9h.01M142.3,64.2h.01M154.3,65.4h.01M137.0,57.4h.01M153.7,60.6h.01M139.8,67.9h.01M154.5,77.4h.01M136.1,56.4h.01M139.2,64.1h.01M141.0,69.6h.01M122.7,68.5h.01M139.7,59.5h.01M149.7,63.0h.01M136.6,72.4h.01M149.8,57.9h.01M146.7,53.4h.01M134.8,59.3h.01M148.0,62.2h.01M138.6,51.4h.01M131.1,73.1h.01M148.1,55.7h.01M154.9,65.4h.01M141.6,57.0h.01M154.5,63.9h.01M158.6,64.1h.01M140.2,57.1h.01M139.2,63.4h.01M147.1,65.9h.01M148.7,53.8h.01M143.3,54.6h.01M149.0,51.9h.01M140.2,55.2h.01M139.9,59.6h.01M157.5,59.6h.01M133.1,59.3h.01M151.2,65.5h.01M147.0,76.0h.01M154.2,62.2h.01M155.1,51.7h.01M143.6,55.2h.01M146.5,73.3h.01M140.9,73.1h.01M136.6,71.9h.01M131.0,55.3h.01M153.3,60.8h.01M146.2,61.4h.01M146.5,60.2h.01M136.9,59.4h.01M145.9,54.9h.01M148.9,74.4h.01M131.4,57.5h.01M142.7,61.6h.01M145.8,56.2h.01M144.7,61.5h.01M144.3,72.7h.01M146.1,50.7h.01M132.1,65.8h.01M142.2,57.0h.01M133.8,59.3h.01M144.2,56.5h.01M142.1,68.0h.01M151.5,65.5h.01M143.6,51.6h.01M151.4,72.4h.01M155.5,70.0h.01M147.3,64.2h.01M144.9,70.6h.01M142.8,77.2h.01M151.4,59.2h.01M145.0,49.8h.01M139.0,59.3h.01M165.2,55.6h.01M152.6,62.1h.01M142.6,66.1h.01M128.5,68.4h.01M161.0,63.7h.01M144.5,62.7h.01M150.5,57.9h.01M146.0,65.2h.01M142.1,64.3h.01M147.8,66.7h.01M136.9,57.6h.01M141.5,70.2h.01M147.1,49.4h.01M134.5,75.6h.01M147.8,52.1h.01M137.5,62.5h.01M156.8,73.3h.01M142.0,59.3h.01M160.8,54.3h.01M157.9,64.0h.01M145.8,70.9h.01M149.0,55.4h.01M132.4,61.6h.01M149.2,71.5h.01M123.4,71.3h.01M150.1,72.6h.01M151.6,63.1h.01M148.6,64.4h.01M139.8,60.7h.01M146.1,58.2h.01M132.9,51.0h.01M149.2,65.3h.01M145.9,53.0h.01M152.0,58.6h.01M127.9,72.9h.01M132.7,77.9h.01M149.4,58.3h.01M125.6,56.4h.01M157.2,71.4h.01M147.1,49.0h.01M141.9,59.4h.01M148.8,60.6h.01M147.9,49.6h.01M139.7,72.0h.01M133.0,68.2h.01M164.1,66.3h.01M133.5,70.6h.01M129.7,64.0h.01M141.6,70.6h.01M154.7,62.9h.01M159.8,68.7h.01M141.1,54.3h.01M165.3,58.5h.01M148.4,60.7h.01M141.1,49.8h.01M143.8,60.7h.01M153.1,57.7h.01M132.1,53.7h.01M144.7,63.3h.01M151.0,58.7h.01M149.5,62.6h.01M158.9,61.1h.01M146.2,65.6h.01M155.1,54.8h.01M141.1,59.5h.01M127.4,71.0h.01M153.9,61.7h.01M172.8,70.8h.01M161.7,73.0h.01M152.5,51.1h.01M157.6,64.6h.01M135.1,61.9h.01M151.2,68.7h.01M146.4,57.7h.01M151.3,55.9h.01M144.4,67.1h.01M133.1,64.2h.01M128.8,54.7h.01M134.8,60.8h.01M150.9,61.1h.01M152.5,62.2h.01M143.3,65.1h.01M143.0,62.5h.01M153.6,57.3h.01M154.5,53.4h.01M143.2,48.8h.01M140.6,73.1h.01M147.9,70.8h.01M132.9,54.1h.01M148.9,67.6h.01M151.9,49.2h.01M149.2,61.0h.01M146.0,65.0h.01M142.7,49.1h.01M136.2,50.9h.01M134.1,60.5h.01M155.8,56.3h.01M138.7,53.1h.01M130.7,62.0h.01M141.0,59.7h.01M137.1,65.1h.01M135.1,65.5h.01M139.5,67.3h.01M137.7,64.7h.01M148.6,60.9h.01M155.9,74.9h.01M131.4,76.0h.01M132.0,73.4h.01M140.1,74.9h.01M156.6,70.8h.01M137.5,76.9h.01M138.4,75.2h.01M154.9,71.9h.01M140.4,76.2h.01M134.3,70.8h.01M130.3,74.9h.01M141.8,78.4h.01M152.9,71.2h.01M150.1,76.4h.01M155.8,74.2h.01M134.6,74.8h.01M155.1,75.8h.01M156.5,76.2h.01M134.3,72.3h.01M158.0,71.3h.01M136.6,73.8h.01M131.1,73.3h.01M140.1,79.6h.01M139.4,73.4h.01M141.2,76.5h.01M132.1,73.6h.01M123.0,76.0h.01M146.6,77.7h.01M128.3,79.1h.01M148.5,73.9h.01M136.2,73.8h.01M128.2,76.1h.01M134.1,73.0h.01M145.0,74.7h.01M134.3,74.0h.01M135.2,77.4h.01M149.8,73.0h.01M139.6,77.4h.01M137.2,78.3h.01M144.3,75.9h.01M119.8,76.3h.01M143.3,75.7h.01M144.7,75.6h.01M135.0,76.4h.01M140.6,72.3h.01M130.1,74.8h.01M143.3,69.8h.01M119.9,76.7h.01M125.1,74.0h.01M134.2,75.7h.01M153.7,77.9h.01M130.2,77.1h.01M128.1,75.2h.01M141.7,75.8h.01M132.2,77.4h.01M139.3,74.5h.01M137.4,72.2h.01M147.0,75.2h.01M144.4,78.5h.01M131.5,73.9h.01M140.1,76.3h.01M138.3,76.5h.01M144.5,70.7h.01M133.3,70.2h.01M137.2,73.6h.01M145.8,74.9h.01M139.4,77.2h.01M145.8,71.9h.01M133.3,75.2h.01M156.6,74.1h.01M138.3,75.1h.01M147.6,74.3h.01M142.9,73.6h.01M134.6,72.8h.01M146.4,73.3h.01M145.4,75.4h.01M149.5,68.8h.01M130.6,71.9h.01M138.4,76.2h.01M164.7,77.8h.01M153.3,75.3h.01M136.2,75.6h.01M118.7,76.5h.01M140.1,75.8h.01M129.9,72.2h.01M133.7,74.4h.01M143.4,73.7h.01M143.4,76.0h.01M128.7,74.3h.01M124.8,73.3h.01M148.8,73.0h.01M158.2,75.6h.01M148.7,74.7h.01M148.5,76.8h.01M141.0,73.4h.01M134.6,78.6h.01M138.2,73.5h.01M133.1,70.9h.01M135.1,75.2h.01M135.3,72.9h.01M144.0,75.5h.01M135.7,75.2h.01M130.5,76.3h.01M130.4,73.8h.01M141.3,73.6h.01M128.8,79.0h.01M154.8,70.8h.01M141.2,71.8h.01M143.0,71.7h.01M145.7,75.6h.01M156.7,77.1h.01M135.5,76.5h.01M135.5,74.3h.01M135.1,70.7h.01M145.9,70.1h.01M137.7,75.6h.01M141.1,71.1h.01M133.7,76.0h.01M150.7,77.9h.01M122.3,75.5h.01M135.3,76.1h.01M123.5,74.2h.01M146.9,73.1h.01M136.5,72.4h.01M150.9,71.7h.01M131.1,73.8h.01M136.9,79.0h.01M142.7,72.7h.01M145.7,75.2h.01M142.8,74.4h.01M144.5,72.0h.01M128.3,73.6h.01M129.2,76.0h.01M159.0,77.1h.01M144.4,75.2h.01M133.3,71.7h.01M145.4,71.3h.01M143.0,74.2h.01M147.3,74.6h.01M141.0,73.3h.01M123.2,73.8h.01M146.8,76.7h.01M153.5,72.4h.01M130.8,76.0h.01M135.6,80.0h.01M143.1,71.2h.01M134.6,77.9h.01M122.2,74.8h.01M126.5,77.9h.01M135.6,72.3h.01M123.3,73.0h.01M115.0,73.5h.01M161.3,74.7h.01M137.4,72.0h.01M143.3,73.5h.01M131.7,77.5h.01M144.3,72.6h.01M154.5,74.4h.01M144.9,74.8h.01M151.5,75.8h.01M136.6,76.0h.01M136.2,74.8h.01M156.0,72.2h.01M129.9,73.6h.01M135.1,77.3h.01M124.4,79.4h.01M155.5,73.5h.01M141.8,73.7h.01M146.6,75.9h.01M147.4,76.1h.01M158.9,74.1h.01M146.8,74.1h.01M140.4,75.0h.01M139.5,75.2h.01M131.7,74.2h.01M134.1,72.0h.01M133.1,73.4h.01M138.5,71.2h.01M137.5,72.1h.01M132.0,74.9h.01M150.8,75.1h.01M135.2,73.6h.01M153.1,71.0h.01M151.1,71.3h.01M133.8,74.6h.01M137.8,78.1h.01M144.8,74.4h.01M149.3,74.6h.01M132.1,76.9h.01M154.7,77.2h.01M128.5,78.6h.01M135.9,76.1h.01M151.7,79.6h.01M124.2,72.3h.01M151.5,75.6h.01M136.9,68.2h.01M144.3,74.1h.01M115.5,73.3h.01M140.0,75.0h.01M147.4,73.9h.01M131.2,73.7h.01M119.4,72.1h.01M159.3,73.0h.01M139.2,78.6h.01M150.3,74.8h.01M147.2,73.9h.01M131.1,76.7h.01M141.3,77.9h.01M137.4,73.7h.01M143.4,74.1h.01M136.9,72.6h.01M142.5,75.2h.01M157.9,74.4h.01M122.8,75.5h.01M162.4,73.6h.01M132.1,74.1h.01M112.0,73.8h.01M138.2,71.3h.01M145.7,72.6h.01M121.9,73.0h.01M146.2,78.6h.01M152.3,74.9h.01M135.0,73.9h.01M149.5,73.4h.01M144.1,76.6h.01M131.1,73.2h.01M144.4,74.5h.01M138.8,73.4h.01M139.4,78.5h.01M153.3,71.0h.01M140.5,74.7h.01M140.4,71.5h.01M138.7,74.8h.01M133.3,75.2h.01M116.1,71.3h.01M141.0,75.3h.01M138.4,73.5h.01M141.8,76.8h.01M148.8,74.3h.01M135.4,76.8h.01M145.3,76.4h.01M137.3,72.6h.01M141.8,73.2h.01M151.3,76.3h.01M118.6,75.9h.01M153.1,76.7h.01M135.4,72.6h.01M149.5,76.7h.01M140.6,72.0h.01M125.0,75.1h.01M131.9,73.0h.01M144.4,76.8h.01M119.7,73.1h.01M152.8,74.4h.01M136.6,75.9h.01M128.8,71.9h.01M140.2,77.9h.01M150.0,74.5h.01M149.9,73.6h.01M128.4,70.9h.01M142.7,76.4h.01M143.7,74.4h.01M136.1,76.8h.01M139.5,71.4h.01M153.5,73.1h.01M143.8,74.5h.01M150.4,75.0h.01M152.0,75.0h.01M135.5,73.4h.01M146.4,72.7h.01M149.1,74.0h.01M130.9,72.6h.01M138.6,78.3h.01M147.6,74.5h.01M131.1,78.6h.01M137.3,74.5h.01M135.8,77.4h.01M141.7,73.5h.01M141.8,72.3h.01M129.7,74.2h.01M111.7,77.0h.01M159.5,72.1h.01M138.6,71.1h.01M141.7,75.0h.01M147.3,71.6h.01M134.1,73.1h.01M137.6,79.4h.01M138.0,74.4h.01M135.0,76.2h.01M165.2,77.0h.01M155.1,72.2h.01M150.4,74.6h.01M152.3,76.8h.01M146.4,70.9h.01M141.3,73.4h.01M144.4,74.6h.01M150.3,71.0h.01M132.7,74.3h.01M143.2,73.6h.01M139.7,74.6h.01M150.3,74.3h.01M142.4,70.6h.01M114.3,71.3h.01M143.5,69.5h.01M144.0,74.3h.01M140.0,72.9h.01M135.9,76.3h.01M143.5,74.4h.01M135.2,75.0h.01M151.7,74.5h.01M136.4,72.0h.01M141.0,72.5h.01M125.9,76.4h.01M133.9,70.1h.01M132.9,78.5h.01M139.0,71.6h.01M129.2,76.1h.01M144.0,75.0h.01M138.1,75.5h.01M155.1,75.6h.01M138.4,71.5h.01M144.4,77.9h.01M146.4,71.8h.01M141.8,77.3h.01M133.8,75.6h.01M151.9,78.0h.01M124.3,70.7h.01M143.7,76.0h.01M136.5,74.5h.01M136.0,77.1h.01M118.2,75.1h.01M127.4,73.0h.01M124.9,72.5h.01M139.8,74.6h.01M157.6,74.0h.01M143.4,75.3h.01M142.5,77.7h.01M141.4,74.8h.01M138.9,74.5h.01M139.5,76.7h.01M140.2,74.6h.01M139.5,76.1h.01M135.3,76.5h.01M134.4,76.0h.01M158.9,75.0h.01M139.1,71.9h.01M147.3,74.5h.01M149.0,73.1h.01M145.1,78.4h.01M144.0,73.8h.01M127.2,74.5h.01M146.5,75.8h.01M129.0,72.3h.01M130.4,72.3h.01M137.3,75.1h.01M159.0,74.9h.01M154.3,70.9h.01M155.2,76.2h.01M144.3,76.3h.01M146.1,78.7h.01M147.9,70.7h.01M122.8,78.0h.01M139.2,77.4h.01M136.6,73.1h.01M136.6,75.2h.01M141.8,73.2h.01M145.3,75.8h.01M130.9,72.1h.01M120.6,73.8h.01M140.1,73.0h.01M134.1,74.2h.01M140.3,75.7h.01M148.2,75.5h.01M151.0,72.4h.01M146.0,75.3h.01M129.7,73.0h.01M144.4,74.7h.01M127.6,73.3h.01M155.1,76.3h.01M140.8,77.4h.01M131.0,74.1h.01M149.5,73.8h.01M129.0,75.8h.01M155.8,69.0h.01M141.5,71.8h.01M137.1,71.4h.01M165.7,73.0h.01M140.4,73.0h.01M130.2,73.5h.01M142.1,78.3h.01M142.8,77.9h.01M129.5,74.7h.01M135.7,71.1h.01M176.8,74.0h.01M142.4,72.9h.01M134.3,72.3h.01M150.1,73.6h.01M138.6,74.9h.01M127.9,75.0h.01M138.3,75.5h.01M136.2,74.6h.01M145.1,76.6h.01M133.2,76.6h.01M130.3,74.1h.01M141.3,74.8h.01M115.3,72.4h.01M138.2,76.5h.01M133.0,77.8h.01M122.2,74.7h.01M145.3,74.5h.01M142.6,76.5h.01M132.0,75.8h.01M150.5,74.0h.01M117.1,71.9h.01M131.6,72.2h.01M144.3,72.8h.01M164.5,75.7h.01M127.1,73.9h.01M155.1,76.0h.01M129.9,76.8h.01M135.3,79.3h.01M134.5,75.8h.01M145.6,73.5h.01M138.5,77.0h.01M144.9,74.4h.01M144.4,78.3h.01M149.2,75.5h.01M143.3,71.1h.01M141.3,73.4h.01M147.2,73.2h.01M144.4,72.2h.01M148.8,72.9h.01M139.7,75.8h.01M136.8,74.5h.01M150.5,78.3h.01M122.2,72.5h.01M146.7,76.5h.01M135.3,74.7h.01M138.1,79.4h.01M138.0,71.9h.01M124.7,71.7h.01M152.9,73.7h.01M159.3,75.9h.01M143.8,75.9h.01M147.8,76.5h.01M130.4,73.3h.01M134.6,74.7h.01M137.5,71.8h.01" stroke="#262626" stroke-width="0.84" stroke-linecap="round" opacity="0.72" fill="none"/>
<path d="M139.9,41.7h.01M154.4,35.5h.01M145.5,37.4h.01M139.2,39.2h.01M143.1,41.5h.01M145.8,36.8h.01M129.9,37.3h.01M147.9,35.8h.01M148.0,39.1h.01M134.4,37.0h.01M145.1,39.3h.01M144.3,37.5h.01M141.7,36.8h.01M143.5,35.0h.01M146.8,36.7h.01M146.2,36.3h.01M145.6,37.8h.01M148.1,38.6h.01M148.3,37.1h.01M143.2,36.9h.01M137.1,37.2h.01M149.1,39.3h.01M139.1,38.2h.01M147.4,34.3h.01M145.3,38.3h.01M147.3,38.1h.01M134.6,32.7h.01M153.7,36.6h.01M150.0,40.5h.01M143.9,34.8h.01M150.5,37.4h.01M146.2,38.6h.01M148.4,39.9h.01M136.2,34.2h.01M144.2,37.5h.01M147.5,37.2h.01M142.6,42.3h.01M150.6,40.2h.01M148.8,35.6h.01M143.1,37.3h.01M137.9,35.4h.01M144.3,34.6h.01M146.3,38.6h.01M142.3,36.7h.01M146.6,38.6h.01M145.4,34.6h.01M135.2,42.3h.01M140.1,36.6h.01M134.1,35.6h.01M139.7,39.4h.01M129.9,34.2h.01M141.4,36.3h.01M139.5,36.5h.01M135.4,38.1h.01M149.6,37.9h.01M140.7,40.5h.01M146.0,35.1h.01M140.6,36.1h.01M143.3,40.4h.01M139.9,37.2h.01M144.1,34.7h.01M141.1,38.9h.01M149.3,33.1h.01M147.1,36.8h.01M150.1,39.0h.01M153.6,38.2h.01M141.5,35.5h.01M136.1,38.8h.01M146.2,39.4h.01M145.3,34.0h.01M141.4,36.9h.01M144.3,39.3h.01M150.8,38.2h.01M132.9,35.1h.01M132.5,35.7h.01M137.3,38.1h.01M142.4,40.1h.01M149.0,36.4h.01M148.4,37.5h.01M145.8,40.7h.01M137.6,37.3h.01M151.4,35.7h.01M144.6,37.8h.01M141.4,34.4h.01M140.0,35.2h.01M149.1,38.1h.01M147.1,34.7h.01M146.1,37.8h.01M148.9,35.8h.01M147.7,40.7h.01M152.8,35.3h.01M137.7,34.1h.01M148.4,38.9h.01M145.3,35.5h.01M149.9,41.3h.01M143.3,37.2h.01M149.6,38.7h.01M150.4,36.6h.01M145.2,36.7h.01M140.6,36.8h.01M142.0,38.7h.01M141.9,37.7h.01M139.3,34.6h.01M150.8,35.2h.01M152.8,39.7h.01M131.7,36.0h.01M141.4,37.5h.01M142.6,36.1h.01M149.9,37.2h.01M148.5,35.9h.01M140.0,40.6h.01M142.1,34.9h.01M142.6,40.0h.01M142.7,35.8h.01M146.8,39.8h.01M142.4,36.8h.01M141.6,43.8h.01M142.5,41.6h.01M142.7,38.5h.01M133.0,37.9h.01M143.8,36.8h.01M141.4,34.3h.01M135.9,37.9h.01M140.2,37.3h.01M142.6,36.3h.01M139.8,41.9h.01M137.8,36.3h.01M142.0,34.8h.01M138.6,39.5h.01M148.3,37.8h.01M160.2,39.4h.01M149.8,35.6h.01M149.1,41.5h.01M141.6,41.7h.01M139.4,34.8h.01M143.3,35.6h.01M146.8,34.9h.01M143.9,32.9h.01M143.3,40.0h.01M142.2,38.2h.01M149.1,34.9h.01M137.0,37.7h.01M144.9,36.9h.01M138.5,40.3h.01M137.5,36.9h.01M143.3,39.2h.01M141.2,35.6h.01M153.9,35.5h.01M147.6,37.1h.01M141.1,37.4h.01M142.2,38.2h.01M130.5,37.4h.01M143.9,35.2h.01M141.5,43.0h.01M153.0,39.0h.01M144.7,36.8h.01M150.6,36.5h.01M139.3,39.1h.01M138.6,35.6h.01M151.0,33.7h.01M143.2,37.8h.01M144.8,34.1h.01M142.4,36.7h.01M153.4,39.9h.01M139.6,39.5h.01M146.9,37.2h.01M142.3,36.9h.01M135.6,36.0h.01M148.3,40.9h.01M153.0,36.6h.01M146.7,31.9h.01M142.1,34.5h.01M147.7,33.6h.01M138.2,34.9h.01M145.6,39.5h.01M138.8,41.7h.01M144.3,35.5h.01M145.3,37.5h.01M147.8,38.3h.01M154.8,40.2h.01M140.2,39.3h.01M147.4,35.2h.01M139.7,35.6h.01M130.9,39.0h.01M142.4,40.4h.01M140.7,37.7h.01M147.2,39.8h.01M145.2,35.1h.01M154.8,39.5h.01M150.5,41.3h.01M150.7,38.5h.01M146.0,39.0h.01M135.8,39.4h.01M138.5,38.5h.01M138.3,39.2h.01M141.0,43.3h.01M144.5,38.7h.01M138.9,36.8h.01M143.2,36.8h.01M141.3,35.5h.01M147.4,36.6h.01M139.4,38.4h.01M139.4,37.1h.01M140.9,35.3h.01M142.4,35.6h.01M137.1,38.3h.01M142.0,34.1h.01M141.5,37.9h.01M145.7,38.4h.01M144.8,38.9h.01M141.0,35.6h.01M146.7,36.5h.01M143.6,39.0h.01M148.3,40.4h.01M140.0,36.6h.01M146.4,34.2h.01M137.1,38.9h.01M140.4,35.3h.01M147.7,38.7h.01M148.2,36.7h.01M142.1,36.7h.01M145.1,32.8h.01M140.0,39.2h.01M139.5,37.4h.01M144.2,38.7h.01M141.1,34.9h.01M156.3,35.8h.01M152.3,33.4h.01M144.1,37.0h.01M153.2,42.3h.01M148.5,35.1h.01M139.4,35.7h.01M140.9,38.1h.01M139.5,36.9h.01M151.1,40.9h.01M134.0,35.3h.01M141.6,40.5h.01M141.9,42.0h.01M145.4,40.9h.01M139.2,36.8h.01M148.8,38.8h.01M134.0,36.9h.01M144.5,39.0h.01M140.3,41.6h.01M144.3,40.9h.01M145.6,37.7h.01M141.9,34.8h.01M148.0,39.3h.01M148.3,36.6h.01M138.4,36.6h.01M142.0,37.5h.01M148.6,35.4h.01M141.1,39.1h.01M148.2,42.7h.01M146.2,35.5h.01M138.2,35.7h.01M143.9,38.1h.01M143.2,36.1h.01M142.6,37.3h.01M146.6,37.7h.01M139.4,34.8h.01M151.1,37.3h.01M142.7,37.4h.01M149.3,36.8h.01M144.5,37.0h.01M146.5,35.2h.01M144.6,39.9h.01M149.6,38.9h.01M145.1,41.2h.01M147.2,40.8h.01M137.4,35.0h.01M147.6,36.9h.01M141.4,35.3h.01M151.1,34.7h.01M144.1,34.3h.01M142.7,42.7h.01M156.0,36.4h.01M138.4,41.3h.01M139.2,33.4h.01M145.3,35.0h.01" stroke="#3a3a3a" stroke-width="0.8" stroke-linecap="round" opacity="0.7" fill="none"/>
<path d="M121.1,53.8h.01M129.6,46.4h.01M140.1,49.4h.01M151.4,50.3h.01M156.9,53.9h.01M159.1,53.8h.01M139.0,51.9h.01M138.4,44.7h.01M124.3,52.5h.01M110.4,47.2h.01M123.1,49.8h.01M126.0,50.9h.01M135.9,48.4h.01M128.2,42.5h.01M139.0,45.6h.01M134.7,51.3h.01M150.5,52.4h.01M155.6,45.2h.01M146.1,55.3h.01M142.8,46.3h.01M142.9,48.3h.01M130.6,53.6h.01M136.1,46.2h.01M130.2,56.7h.01M128.3,52.3h.01M140.3,54.0h.01M134.9,46.8h.01M130.7,46.5h.01M168.6,50.7h.01M134.4,54.3h.01M145.9,49.4h.01M145.5,50.9h.01M151.4,55.6h.01M134.5,49.9h.01M136.1,54.1h.01M142.7,52.7h.01M148.7,47.9h.01M139.7,54.7h.01M149.0,52.8h.01M134.9,48.8h.01M128.1,49.1h.01M137.4,45.2h.01M151.8,47.4h.01M141.1,52.0h.01M131.7,43.9h.01M149.5,51.4h.01M135.2,53.8h.01M148.7,46.8h.01M137.3,44.0h.01M135.1,54.8h.01M128.4,52.8h.01M120.5,49.0h.01M149.2,55.8h.01M143.5,52.6h.01M158.3,41.7h.01M118.2,56.4h.01M167.1,52.0h.01M139.0,50.9h.01M138.5,47.9h.01M138.0,49.6h.01M146.0,52.3h.01M149.7,52.0h.01M126.8,54.7h.01M106.9,50.4h.01M142.1,48.2h.01M160.1,46.3h.01M124.5,48.3h.01M143.1,52.7h.01M139.5,52.3h.01M130.0,48.0h.01M139.7,45.5h.01M140.4,48.7h.01M146.2,46.6h.01M132.0,48.1h.01M133.9,46.6h.01M135.2,45.4h.01M144.5,52.3h.01M138.0,49.4h.01M127.8,46.8h.01M135.6,47.0h.01M124.5,50.6h.01M138.0,48.6h.01M128.7,49.8h.01M130.1,48.6h.01M140.4,52.4h.01M147.0,48.0h.01M152.3,46.1h.01M136.2,54.4h.01M165.8,50.4h.01M134.0,48.7h.01M124.1,49.5h.01M133.3,47.5h.01M152.1,47.4h.01M157.9,52.9h.01M145.7,48.0h.01M132.3,43.3h.01M141.4,49.1h.01M142.7,47.7h.01M143.9,44.9h.01M112.7,51.6h.01M150.7,39.4h.01M153.1,48.8h.01M136.3,44.8h.01M126.6,52.4h.01M129.6,49.9h.01M136.4,56.7h.01M148.5,45.5h.01M132.6,46.1h.01M122.1,47.7h.01M151.0,50.2h.01M146.0,49.6h.01M133.3,50.3h.01M137.3,56.5h.01M159.0,51.3h.01M145.2,43.3h.01M136.8,58.1h.01M128.9,52.8h.01M152.3,48.7h.01M135.6,48.5h.01M147.4,50.1h.01M155.6,54.0h.01M138.1,58.8h.01M134.6,47.9h.01M135.4,47.0h.01M133.3,49.8h.01M148.5,44.7h.01M121.9,47.4h.01M134.6,51.5h.01M129.0,55.1h.01M132.0,49.3h.01M138.8,54.0h.01M141.6,50.1h.01M131.9,50.6h.01M142.8,48.8h.01M137.9,43.8h.01M132.0,54.0h.01M154.6,49.8h.01M113.1,56.2h.01M136.2,58.7h.01M133.4,53.4h.01M131.0,54.7h.01M151.6,46.4h.01M153.1,59.7h.01M135.6,45.9h.01M141.4,48.6h.01M120.8,46.4h.01M141.0,44.8h.01M150.6,51.5h.01M136.1,54.8h.01M127.4,52.3h.01M122.5,48.9h.01M145.5,48.2h.01M136.8,52.2h.01M155.8,54.4h.01M143.4,49.1h.01M121.4,55.8h.01M159.8,42.7h.01M148.2,49.9h.01M146.3,51.1h.01M135.9,50.0h.01M137.7,54.0h.01M135.1,48.2h.01M145.7,52.2h.01M143.2,51.0h.01M155.2,53.8h.01M140.6,49.3h.01M145.8,43.6h.01M132.1,47.6h.01M140.1,48.7h.01M166.6,52.5h.01M142.8,57.7h.01M138.1,48.9h.01M152.3,52.8h.01M148.8,54.1h.01M133.9,47.8h.01M129.8,50.4h.01M149.7,46.4h.01M131.9,45.5h.01M161.2,52.7h.01M140.6,45.9h.01M126.2,47.8h.01M138.5,45.7h.01M135.5,54.2h.01M138.3,50.3h.01M113.9,49.1h.01M136.4,47.6h.01M122.1,49.8h.01M126.3,48.1h.01M119.7,49.7h.01M148.6,47.1h.01M141.9,44.8h.01M144.8,51.9h.01M133.6,53.0h.01M128.0,50.2h.01M157.5,49.9h.01M125.2,53.9h.01M144.3,49.1h.01M117.1,43.6h.01M120.6,55.1h.01M141.5,47.1h.01" stroke="#3a3a3a" stroke-width="0.8" stroke-linecap="round" opacity="0.6" fill="none"/>
</g>
<rect x="109.1" y="30.5" width="45.6" height="13.3" fill="none" stroke="#5a5a5a" stroke-width="0.9" />
<line x1="134.3" y1="30.6" x2="134.3" y2="44.0" stroke="#222" stroke-width="1.0" />
<text x="113.2" y="27.2" font-size="10" font-weight="normal" text-anchor="start"  style="stroke-width:0.12px" letter-spacing="-0.3">MP</text>
<text x="134.6" y="27.2" font-size="10" font-weight="normal" text-anchor="start"  style="stroke-width:0.12px" letter-spacing="-0.35">LSK</text>
<rect x="101.75" y="14.5" width="69.45" height="68.0" fill="none" stroke="#000" stroke-width="2.0" />
<path d="M96,89.2 V71" stroke="#000" stroke-width="1.2" fill="none" />
<path d="M93.9,72.6 L96,67.8 L98.1,72.6 Z" stroke="none" stroke-width="0" fill="#000" />
<path d="M95.4,89.2 H112" stroke="#000" stroke-width="1.2" fill="none" />
<path d="M110.6,87.1 L115.4,89.2 L110.6,91.3 Z" stroke="none" stroke-width="0" fill="#000" />
<text transform="translate(92.3,82.2) rotate(-90)" font-size="10" font-weight="normal" text-anchor="middle" letter-spacing="-0.1">cKit</text>
<text x="95.0" y="99.3" font-size="10" font-weight="normal" text-anchor="start"  letter-spacing="-0.1">Sca-1</text>
<text x="211.3" y="9.6" font-size="10.8" font-weight="normal" text-anchor="middle"  >WT</text>
<text x="288.8" y="9.6" font-size="10.8" font-weight="normal" text-anchor="middle"  >ESL-1<tspan font-size="7.34" dy="-2.59">–/–</tspan></text>
<text x="363.7" y="9.6" font-size="10.8" font-weight="normal" text-anchor="middle"  >PSGL-1<tspan font-size="7.34" dy="-2.59">–/–</tspan></text>
<text x="435.2" y="9.6" font-size="10.8" font-weight="normal" text-anchor="middle"  >DKO</text>
<clipPath id="hc00"><rect x="182.4" y="13.9" width="61.099999999999994" height="51.199999999999996"/></clipPath>
<g clip-path="url(#hc00)"><g>
<path d="M188.50,65.10 L188.50,64.60 C189.25,64.25 191.58,64.10 193.00,62.50 C194.42,60.90 195.75,58.42 197.00,55.00 C198.25,51.58 199.33,46.17 200.50,42.00 C201.67,37.83 202.75,33.25 204.00,30.00 C205.25,26.75 206.83,24.25 208.00,22.50 C209.17,20.75 210.08,20.22 211.00,19.50 C211.92,18.78 212.75,18.20 213.50,18.20 C214.25,18.20 214.83,18.70 215.50,19.50 C216.17,20.30 216.67,21.65 217.50,23.00 C218.33,24.35 219.67,27.27 220.50,27.60 C221.33,27.93 221.88,26.77 222.50,25.00 C223.12,23.23 223.72,18.85 224.20,17.00 C224.68,15.15 224.97,13.73 225.40,13.90 C225.83,14.07 226.28,14.82 226.80,18.00 C227.32,21.18 227.88,27.67 228.50,33.00 C229.12,38.33 229.83,45.75 230.50,50.00 C231.17,54.25 231.67,56.42 232.50,58.50 C233.33,60.58 234.25,61.48 235.50,62.50 C236.75,63.52 239.25,64.25 240.00,64.60 L240.00,65.10 Z" stroke="#262626" stroke-width="0.7" fill="#474747" />
</g></g>
<path d="M185.40,65.1 v2.6M189.55,65.1 v1.7M191.97,65.1 v1.7M193.69,65.1 v1.7M195.03,65.1 v1.7M196.12,65.1 v1.7M197.04,65.1 v1.7M197.84,65.1 v1.7M198.54,65.1 v1.7M199.18,65.1 v2.6M203.32,65.1 v1.7M205.75,65.1 v1.7M207.47,65.1 v1.7M208.80,65.1 v1.7M209.89,65.1 v1.7M210.82,65.1 v1.7M211.62,65.1 v1.7M212.32,65.1 v1.7M212.95,65.1 v2.6M217.10,65.1 v1.7M219.52,65.1 v1.7M221.24,65.1 v1.7M222.58,65.1 v1.7M223.67,65.1 v1.7M224.59,65.1 v1.7M225.39,65.1 v1.7M226.09,65.1 v1.7M226.72,65.1 v2.6M230.87,65.1 v1.7M233.30,65.1 v1.7M235.02,65.1 v1.7M236.35,65.1 v1.7M237.44,65.1 v1.7M238.37,65.1 v1.7M239.17,65.1 v1.7M239.87,65.1 v1.7" stroke="#000" stroke-width="0.85" fill="none" />
<path d="M182.4,53.97 h-1.8M182.4,42.84 h-1.8M182.4,31.71 h-1.8M182.4,20.58 h-1.8" stroke="#111" stroke-width="0.8" fill="none" />
<line x1="200.6" y1="13.9" x2="200.6" y2="65.1" stroke="#111" stroke-width="1.4" stroke-dasharray="2 1"/>
<rect x="182.4" y="13.9" width="61.099999999999994" height="51.199999999999996" fill="none" stroke="#000" stroke-width="1.5" />
<clipPath id="hc10"><rect x="255.3" y="13.9" width="62.0" height="51.199999999999996"/></clipPath>
<g clip-path="url(#hc10)"><g>
<path d="M259.00,65.10 L259.00,64.60 C259.42,63.50 260.67,61.60 261.50,58.00 C262.33,54.40 263.25,46.50 264.00,43.00 C264.75,39.50 265.25,37.83 266.00,37.00 C266.75,36.17 267.67,38.00 268.50,38.00 C269.33,38.00 270.08,37.83 271.00,37.00 C271.92,36.17 273.00,33.90 274.00,33.00 C275.00,32.10 275.92,31.60 277.00,31.60 C278.08,31.60 279.33,32.18 280.50,33.00 C281.67,33.82 282.83,35.50 284.00,36.50 C285.17,37.50 286.42,39.25 287.50,39.00 C288.58,38.75 289.58,37.50 290.50,35.00 C291.42,32.50 292.17,27.40 293.00,24.00 C293.83,20.60 294.67,14.60 295.50,14.60 C296.33,14.60 297.17,19.77 298.00,24.00 C298.83,28.23 299.67,35.33 300.50,40.00 C301.33,44.67 302.08,48.67 303.00,52.00 C303.92,55.33 304.83,58.00 306.00,60.00 C307.17,62.00 309.33,63.33 310.00,64.00 L310.00,65.10 Z" stroke="#5a5a5a" stroke-width="0.6" fill="#7d7d7d" />
<path d="M259.00,65.10 L259.00,64.60 C259.42,63.50 260.67,61.60 261.50,58.00 C262.33,54.40 263.25,46.57 264.00,43.00 C264.75,39.43 265.30,37.35 266.00,36.60 C266.70,35.85 267.37,37.43 268.20,38.50 C269.03,39.57 269.95,41.67 271.00,43.00 C272.05,44.33 273.17,45.42 274.50,46.50 C275.83,47.58 277.50,48.53 279.00,49.50 C280.50,50.47 282.17,51.78 283.50,52.30 C284.83,52.82 285.92,53.15 287.00,52.60 C288.08,52.05 289.03,50.60 290.00,49.00 C290.97,47.40 292.00,44.43 292.80,43.00 C293.60,41.57 294.10,40.23 294.80,40.40 C295.50,40.57 296.22,41.90 297.00,44.00 C297.78,46.10 298.67,50.42 299.50,53.00 C300.33,55.58 301.08,57.83 302.00,59.50 C302.92,61.17 303.83,62.15 305.00,63.00 C306.17,63.85 308.33,64.33 309.00,64.60 L309.00,65.10 Z" stroke="#262626" stroke-width="0.7" fill="#474747" fill-opacity="0.93"/>
</g></g>
<path d="M258.30,65.1 v2.6M262.51,65.1 v1.7M264.98,65.1 v1.7M266.73,65.1 v1.7M268.09,65.1 v1.7M269.19,65.1 v1.7M270.13,65.1 v1.7M270.94,65.1 v1.7M271.66,65.1 v1.7M272.30,65.1 v2.6M276.51,65.1 v1.7M278.98,65.1 v1.7M280.73,65.1 v1.7M282.09,65.1 v1.7M283.19,65.1 v1.7M284.13,65.1 v1.7M284.94,65.1 v1.7M285.66,65.1 v1.7M286.30,65.1 v2.6M290.51,65.1 v1.7M292.98,65.1 v1.7M294.73,65.1 v1.7M296.09,65.1 v1.7M297.19,65.1 v1.7M298.13,65.1 v1.7M298.94,65.1 v1.7M299.66,65.1 v1.7M300.30,65.1 v2.6M304.51,65.1 v1.7M306.98,65.1 v1.7M308.73,65.1 v1.7M310.09,65.1 v1.7M311.19,65.1 v1.7M312.13,65.1 v1.7M312.94,65.1 v1.7M313.66,65.1 v1.7" stroke="#000" stroke-width="0.85" fill="none" />
<path d="M255.3,53.97 h-1.8M255.3,42.84 h-1.8M255.3,31.71 h-1.8M255.3,20.58 h-1.8" stroke="#111" stroke-width="0.8" fill="none" />
<line x1="271.4" y1="13.9" x2="271.4" y2="65.1" stroke="#111" stroke-width="1.4" stroke-dasharray="2 1"/>
<rect x="255.3" y="13.9" width="62.0" height="51.199999999999996" fill="none" stroke="#000" stroke-width="1.5" />
<clipPath id="hc20"><rect x="328.6" y="13.9" width="61.39999999999998" height="51.199999999999996"/></clipPath>
<g clip-path="url(#hc20)"><g>
<path d="M333.00,65.10 L333.00,64.60 C333.42,63.00 334.75,60.27 335.50,55.00 C336.25,49.73 336.88,39.33 337.50,33.00 C338.12,26.67 338.75,20.08 339.20,17.00 C339.65,13.92 339.83,14.42 340.20,14.50 C340.57,14.58 340.93,15.08 341.40,17.50 C341.87,19.92 342.47,25.58 343.00,29.00 C343.53,32.42 344.02,36.00 344.60,38.00 C345.18,40.00 345.60,40.25 346.50,41.00 C347.40,41.75 348.58,41.92 350.00,42.50 C351.42,43.08 353.33,43.83 355.00,44.50 C356.67,45.17 358.58,46.42 360.00,46.50 C361.42,46.58 362.42,46.75 363.50,45.00 C364.58,43.25 365.62,38.33 366.50,36.00 C367.38,33.67 368.05,31.25 368.80,31.00 C369.55,30.75 370.22,32.17 371.00,34.50 C371.78,36.83 372.58,41.92 373.50,45.00 C374.42,48.08 375.50,50.75 376.50,53.00 C377.50,55.25 378.42,57.00 379.50,58.50 C380.58,60.00 381.75,61.02 383.00,62.00 C384.25,62.98 386.33,64.00 387.00,64.40 L387.00,65.10 Z" stroke="#5a5a5a" stroke-width="0.6" fill="#7d7d7d" />
<path d="M333.00,65.10 L333.00,64.60 C333.42,63.00 334.75,60.27 335.50,55.00 C336.25,49.73 336.88,39.33 337.50,33.00 C338.12,26.67 338.75,20.08 339.20,17.00 C339.65,13.92 339.83,14.42 340.20,14.50 C340.57,14.58 340.93,15.08 341.40,17.50 C341.87,19.92 342.47,25.50 343.00,29.00 C343.53,32.50 344.02,36.25 344.60,38.50 C345.18,40.75 345.60,41.17 346.50,42.50 C347.40,43.83 348.75,45.25 350.00,46.50 C351.25,47.75 352.67,48.83 354.00,50.00 C355.33,51.17 356.67,52.42 358.00,53.50 C359.33,54.58 360.50,55.50 362.00,56.50 C363.50,57.50 365.17,58.58 367.00,59.50 C368.83,60.42 370.83,61.22 373.00,62.00 C375.17,62.78 378.83,63.83 380.00,64.20 L380.00,65.10 Z" stroke="#262626" stroke-width="0.7" fill="#474747" fill-opacity="0.93"/>
</g></g>
<path d="M331.60,65.1 v2.6M335.77,65.1 v1.7M338.21,65.1 v1.7M339.94,65.1 v1.7M341.28,65.1 v1.7M342.38,65.1 v1.7M343.30,65.1 v1.7M344.11,65.1 v1.7M344.82,65.1 v1.7M345.45,65.1 v2.6M349.62,65.1 v1.7M352.06,65.1 v1.7M353.79,65.1 v1.7M355.13,65.1 v1.7M356.23,65.1 v1.7M357.15,65.1 v1.7M357.96,65.1 v1.7M358.67,65.1 v1.7M359.30,65.1 v2.6M363.47,65.1 v1.7M365.91,65.1 v1.7M367.64,65.1 v1.7M368.98,65.1 v1.7M370.08,65.1 v1.7M371.00,65.1 v1.7M371.81,65.1 v1.7M372.52,65.1 v1.7M373.15,65.1 v2.6M377.32,65.1 v1.7M379.76,65.1 v1.7M381.49,65.1 v1.7M382.83,65.1 v1.7M383.93,65.1 v1.7M384.85,65.1 v1.7M385.66,65.1 v1.7M386.37,65.1 v1.7" stroke="#000" stroke-width="0.85" fill="none" />
<path d="M328.6,53.97 h-1.8M328.6,42.84 h-1.8M328.6,31.71 h-1.8M328.6,20.58 h-1.8" stroke="#111" stroke-width="0.8" fill="none" />
<line x1="346.0" y1="13.9" x2="346.0" y2="65.1" stroke="#111" stroke-width="1.4" stroke-dasharray="2 1"/>
<rect x="328.6" y="13.9" width="61.39999999999998" height="51.199999999999996" fill="none" stroke="#000" stroke-width="1.5" />
<clipPath id="hc30"><rect x="404.6" y="12.8" width="61.39999999999998" height="51.8"/></clipPath>
<g clip-path="url(#hc30)"><g transform="translate(0.7,-0.5)">
<path d="M408.00,65.10 L408.00,64.60 C408.50,63.17 410.08,61.10 411.00,56.00 C411.92,50.90 412.75,40.50 413.50,34.00 C414.25,27.50 414.98,20.40 415.50,17.00 C416.02,13.60 416.22,13.60 416.60,13.60 C416.98,13.60 417.23,14.27 417.80,17.00 C418.37,19.73 419.25,26.42 420.00,30.00 C420.75,33.58 421.38,36.75 422.30,38.50 C423.22,40.25 424.38,40.20 425.50,40.50 C426.62,40.80 427.83,40.08 429.00,40.30 C430.17,40.52 431.33,41.35 432.50,41.80 C433.67,42.25 434.92,43.47 436.00,43.00 C437.08,42.53 438.00,41.50 439.00,39.00 C440.00,36.50 441.08,31.17 442.00,28.00 C442.92,24.83 443.77,21.67 444.50,20.00 C445.23,18.33 445.77,17.83 446.40,18.00 C447.03,18.17 447.62,18.33 448.30,21.00 C448.98,23.67 449.72,29.50 450.50,34.00 C451.28,38.50 452.17,44.17 453.00,48.00 C453.83,51.83 454.58,54.58 455.50,57.00 C456.42,59.42 457.42,61.23 458.50,62.50 C459.58,63.77 461.42,64.25 462.00,64.60 L462.00,65.10 Z" stroke="#5a5a5a" stroke-width="0.6" fill="#7d7d7d" />
<path d="M408.00,65.10 L408.00,64.60 C408.50,63.17 410.08,61.10 411.00,56.00 C411.92,50.90 412.75,40.50 413.50,34.00 C414.25,27.50 414.98,20.40 415.50,17.00 C416.02,13.60 416.22,13.60 416.60,13.60 C416.98,13.60 417.23,14.27 417.80,17.00 C418.37,19.73 419.25,26.17 420.00,30.00 C420.75,33.83 421.47,37.25 422.30,40.00 C423.13,42.75 423.88,44.58 425.00,46.50 C426.12,48.42 427.50,49.92 429.00,51.50 C430.50,53.08 432.17,54.62 434.00,56.00 C435.83,57.38 437.83,58.72 440.00,59.80 C442.17,60.88 444.67,61.73 447.00,62.50 C449.33,63.27 452.83,64.08 454.00,64.40 L454.00,65.10 Z" stroke="#262626" stroke-width="0.7" fill="#474747" fill-opacity="0.93"/>
</g></g>
<path d="M407.60,64.6 v2.6M411.77,64.6 v1.7M414.21,64.6 v1.7M415.94,64.6 v1.7M417.28,64.6 v1.7M418.38,64.6 v1.7M419.30,64.6 v1.7M420.11,64.6 v1.7M420.82,64.6 v1.7M421.45,64.6 v2.6M425.62,64.6 v1.7M428.06,64.6 v1.7M429.79,64.6 v1.7M431.13,64.6 v1.7M432.23,64.6 v1.7M433.15,64.6 v1.7M433.96,64.6 v1.7M434.67,64.6 v1.7M435.30,64.6 v2.6M439.47,64.6 v1.7M441.91,64.6 v1.7M443.64,64.6 v1.7M444.98,64.6 v1.7M446.08,64.6 v1.7M447.00,64.6 v1.7M447.81,64.6 v1.7M448.52,64.6 v1.7M449.15,64.6 v2.6M453.32,64.6 v1.7M455.76,64.6 v1.7M457.49,64.6 v1.7M458.83,64.6 v1.7M459.93,64.6 v1.7M460.85,64.6 v1.7M461.66,64.6 v1.7M462.37,64.6 v1.7" stroke="#000" stroke-width="0.85" fill="none" />
<path d="M404.6,53.34 h-1.8M404.6,42.08 h-1.8M404.6,30.82 h-1.8M404.6,19.56 h-1.8" stroke="#111" stroke-width="0.8" fill="none" />
<line x1="422.2" y1="12.8" x2="422.2" y2="64.6" stroke="#111" stroke-width="1.4" stroke-dasharray="2 1"/>
<rect x="404.6" y="12.8" width="61.39999999999998" height="51.8" fill="none" stroke="#000" stroke-width="1.5" />
<clipPath id="hc01"><rect x="181.2" y="79.1" width="61.60000000000002" height="46.900000000000006"/></clipPath>
<g clip-path="url(#hc01)">
<path d="M212.93,126.00 L212.93,124.27 L213.93,120.96 L215.09,119.23 L216.24,113.75 L217.25,110.58 L218.26,116.63 L219.41,112.02 L220.13,109.14 L221.14,115.19 L222.00,110.58 L223.01,101.22 L223.73,107.41 L224.45,99.78 L225.17,105.11 L226.18,96.89 L226.90,103.67 L227.77,97.61 L228.49,91.85 L229.21,84.65 L229.78,80.03 L230.50,87.24 L231.08,84.65 L231.66,93.58 L232.38,91.13 L233.10,97.90 L233.82,96.17 L234.54,100.06 L235.26,94.01 L235.98,93.29 L236.41,99.78 L236.99,104.82 L237.56,116.35 L238.14,122.11 L238.57,124.27 L238.57,126.00 Z" stroke="none" stroke-width="0" fill="#282828" opacity="0.95"/>
<path d="M218.26,116.13 V120.85M221.14,114.69 V120.06M223.73,106.91 V115.78M225.17,104.61 V114.51M226.90,103.17 V113.72M230.50,86.74 V104.68M231.66,93.08 V108.17M233.10,97.40 V110.55M234.54,99.56 V111.73" stroke="#fff" stroke-width="0.55" fill="none" opacity="0.4"/>
</g>
<path d="M184.20,126.0 v2.6M188.38,126.0 v1.7M190.83,126.0 v1.7M192.57,126.0 v1.7M193.92,126.0 v1.7M195.02,126.0 v1.7M195.95,126.0 v1.7M196.75,126.0 v1.7M197.46,126.0 v1.7M198.10,126.0 v2.6M202.28,126.0 v1.7M204.73,126.0 v1.7M206.47,126.0 v1.7M207.82,126.0 v1.7M208.92,126.0 v1.7M209.85,126.0 v1.7M210.65,126.0 v1.7M211.36,126.0 v1.7M212.00,126.0 v2.6M216.18,126.0 v1.7M218.63,126.0 v1.7M220.37,126.0 v1.7M221.72,126.0 v1.7M222.82,126.0 v1.7M223.75,126.0 v1.7M224.55,126.0 v1.7M225.26,126.0 v1.7M225.90,126.0 v2.6M230.08,126.0 v1.7M232.53,126.0 v1.7M234.27,126.0 v1.7M235.62,126.0 v1.7M236.72,126.0 v1.7M237.65,126.0 v1.7M238.45,126.0 v1.7M239.16,126.0 v1.7" stroke="#000" stroke-width="0.85" fill="none" />
<path d="M181.2,115.80 h-1.8M181.2,105.61 h-1.8M181.2,95.41 h-1.8M181.2,85.22 h-1.8" stroke="#111" stroke-width="0.8" fill="none" />
<line x1="198.4" y1="79.1" x2="198.4" y2="126.0" stroke="#111" stroke-width="1.4" stroke-dasharray="2 1"/>
<rect x="181.2" y="79.1" width="61.60000000000002" height="46.900000000000006" fill="none" stroke="#000" stroke-width="1.5" />
<clipPath id="hc11"><rect x="255.8" y="79.1" width="62.0" height="46.900000000000006"/></clipPath>
<g clip-path="url(#hc11)">
<path d="M300.17,126.00 L300.17,124.27 L301.04,99.05 L301.61,90.41 L302.33,84.65 L303.05,81.04 L303.78,80.03 L304.78,81.76 L305.50,86.09 L306.22,91.85 L307.09,104.82 L307.81,113.46 L308.53,117.79 L309.25,110.58 L309.97,109.14 L310.69,112.02 L311.41,119.23 L312.42,124.27 L312.42,126.00 Z" stroke="none" stroke-width="0" fill="#7d7d7d" />
<path d="M287.20,126.00 L287.20,124.27 L287.93,120.67 L289.37,118.51 L290.09,116.35 L291.24,119.23 L292.25,117.07 L293.69,114.90 L294.41,110.58 L295.56,109.86 L296.57,104.82 L297.58,103.38 L298.44,97.61 L299.45,96.89 L300.17,93.29 L301.18,91.85 L301.90,94.73 L302.77,100.50 L303.49,104.82 L304.50,110.58 L305.65,116.35 L306.66,120.67 L307.67,124.27 L307.67,126.00 Z" stroke="none" stroke-width="0" fill="#282828" opacity="0.95"/>
<path d="M291.24,118.73 V122.28" stroke="#fff" stroke-width="0.55" fill="none" opacity="0.4"/>
<path d="M308.53,117.29 V121.48" stroke="#fff" stroke-width="0.55" fill="none" opacity="0.3"/>
</g>
<path d="M258.80,126.0 v2.6M263.01,126.0 v1.7M265.48,126.0 v1.7M267.23,126.0 v1.7M268.59,126.0 v1.7M269.69,126.0 v1.7M270.63,126.0 v1.7M271.44,126.0 v1.7M272.16,126.0 v1.7M272.80,126.0 v2.6M277.01,126.0 v1.7M279.48,126.0 v1.7M281.23,126.0 v1.7M282.59,126.0 v1.7M283.69,126.0 v1.7M284.63,126.0 v1.7M285.44,126.0 v1.7M286.16,126.0 v1.7M286.80,126.0 v2.6M291.01,126.0 v1.7M293.48,126.0 v1.7M295.23,126.0 v1.7M296.59,126.0 v1.7M297.69,126.0 v1.7M298.63,126.0 v1.7M299.44,126.0 v1.7M300.16,126.0 v1.7M300.80,126.0 v2.6M305.01,126.0 v1.7M307.48,126.0 v1.7M309.23,126.0 v1.7M310.59,126.0 v1.7M311.69,126.0 v1.7M312.63,126.0 v1.7M313.44,126.0 v1.7M314.16,126.0 v1.7" stroke="#000" stroke-width="0.85" fill="none" />
<path d="M255.8,115.80 h-1.8M255.8,105.61 h-1.8M255.8,95.41 h-1.8M255.8,85.22 h-1.8" stroke="#111" stroke-width="0.8" fill="none" />
<line x1="272.8" y1="79.1" x2="272.8" y2="126.0" stroke="#111" stroke-width="1.4" stroke-dasharray="2 1"/>
<rect x="255.8" y="79.1" width="62.0" height="46.900000000000006" fill="none" stroke="#000" stroke-width="1.5" />
<clipPath id="hc21"><rect x="329.2" y="79.1" width="61.80000000000001" height="46.900000000000006"/></clipPath>
<g clip-path="url(#hc21)">
<path d="M376.61,126.00 L376.61,124.27 L378.05,104.82 L379.50,97.61 L380.94,99.05 L382.38,103.38 L383.39,104.10 L384.25,106.55 L385.12,112.02 L386.12,118.07 L387.13,124.27 L387.13,126.00 Z" stroke="none" stroke-width="0" fill="#7d7d7d" />
<path d="M360.48,126.00 L360.48,124.27 L360.76,119.23 L361.48,122.83 L362.49,122.11 L363.65,120.67 L365.09,118.51 L366.53,117.07 L367.97,114.18 L369.41,112.02 L370.56,108.42 L371.57,110.58 L372.58,106.98 L373.73,104.82 L374.74,101.94 L375.61,103.38 L376.33,97.61 L377.05,93.29 L377.77,88.97 L378.49,83.93 L379.06,80.03 L379.64,84.65 L380.22,90.41 L380.94,96.17 L381.66,101.94 L382.38,106.26 L383.10,104.82 L383.82,106.98 L384.54,112.02 L385.26,118.07 L385.98,124.27 L385.98,126.00 Z" stroke="none" stroke-width="0" fill="#282828" opacity="0.95"/>
<path d="M361.48,122.33 V124.26M371.57,110.08 V117.52M375.61,102.88 V113.56M382.38,105.76 V115.14" stroke="#fff" stroke-width="0.55" fill="none" opacity="0.4"/>
</g>
<path d="M332.20,126.0 v2.6M336.40,126.0 v1.7M338.86,126.0 v1.7M340.60,126.0 v1.7M341.95,126.0 v1.7M343.06,126.0 v1.7M343.99,126.0 v1.7M344.80,126.0 v1.7M345.51,126.0 v1.7M346.15,126.0 v2.6M350.35,126.0 v1.7M352.81,126.0 v1.7M354.55,126.0 v1.7M355.90,126.0 v1.7M357.01,126.0 v1.7M357.94,126.0 v1.7M358.75,126.0 v1.7M359.46,126.0 v1.7M360.10,126.0 v2.6M364.30,126.0 v1.7M366.76,126.0 v1.7M368.50,126.0 v1.7M369.85,126.0 v1.7M370.96,126.0 v1.7M371.89,126.0 v1.7M372.70,126.0 v1.7M373.41,126.0 v1.7M374.05,126.0 v2.6M378.25,126.0 v1.7M380.71,126.0 v1.7M382.45,126.0 v1.7M383.80,126.0 v1.7M384.91,126.0 v1.7M385.84,126.0 v1.7M386.65,126.0 v1.7M387.36,126.0 v1.7" stroke="#000" stroke-width="0.85" fill="none" />
<path d="M329.2,115.80 h-1.8M329.2,105.61 h-1.8M329.2,95.41 h-1.8M329.2,85.22 h-1.8" stroke="#111" stroke-width="0.8" fill="none" />
<line x1="346.4" y1="79.1" x2="346.4" y2="126.0" stroke="#111" stroke-width="1.4" stroke-dasharray="2 1"/>
<rect x="329.2" y="79.1" width="61.80000000000001" height="46.900000000000006" fill="none" stroke="#000" stroke-width="1.5" />
<clipPath id="hc31"><rect x="403.0" y="79.1" width="61.39999999999998" height="46.900000000000006"/></clipPath>
<g clip-path="url(#hc31)">
<path d="M447.02,126.00 L447.02,124.27 L447.60,104.82 L448.17,88.97 L448.89,81.76 L449.61,80.03 L450.33,84.65 L451.05,81.04 L451.78,82.48 L452.50,80.03 L453.22,83.20 L453.94,81.76 L454.66,88.97 L455.38,97.61 L456.10,104.82 L456.82,100.50 L457.54,99.05 L458.26,101.94 L458.98,113.46 L459.99,120.67 L460.85,124.27 L460.85,126.00 Z" stroke="none" stroke-width="0" fill="#7d7d7d" />
<path d="M434.05,126.00 L434.05,124.27 L434.92,117.79 L435.49,114.90 L436.21,119.23 L437.37,117.07 L438.37,114.90 L439.53,112.02 L440.68,109.86 L441.69,106.98 L442.70,104.10 L443.56,101.94 L444.57,99.05 L445.29,95.45 L446.30,94.01 L447.16,96.17 L447.88,95.45 L448.61,99.78 L449.61,104.10 L450.62,108.42 L451.78,113.46 L452.78,117.79 L453.94,121.39 L455.09,124.27 L455.09,126.00 Z" stroke="none" stroke-width="0" fill="#282828" opacity="0.95"/>
<path d="M436.21,118.73 V122.28M447.16,95.67 V109.60" stroke="#fff" stroke-width="0.55" fill="none" opacity="0.4"/>
<path d="M450.33,84.15 V103.26M451.78,81.98 V102.07M453.22,82.70 V102.46M456.10,104.32 V114.35" stroke="#fff" stroke-width="0.55" fill="none" opacity="0.3"/>
</g>
<path d="M406.00,126.0 v2.6M410.17,126.0 v1.7M412.61,126.0 v1.7M414.34,126.0 v1.7M415.68,126.0 v1.7M416.78,126.0 v1.7M417.70,126.0 v1.7M418.51,126.0 v1.7M419.22,126.0 v1.7M419.85,126.0 v2.6M424.02,126.0 v1.7M426.46,126.0 v1.7M428.19,126.0 v1.7M429.53,126.0 v1.7M430.63,126.0 v1.7M431.55,126.0 v1.7M432.36,126.0 v1.7M433.07,126.0 v1.7M433.70,126.0 v2.6M437.87,126.0 v1.7M440.31,126.0 v1.7M442.04,126.0 v1.7M443.38,126.0 v1.7M444.48,126.0 v1.7M445.40,126.0 v1.7M446.21,126.0 v1.7M446.92,126.0 v1.7M447.55,126.0 v2.6M451.72,126.0 v1.7M454.16,126.0 v1.7M455.89,126.0 v1.7M457.23,126.0 v1.7M458.33,126.0 v1.7M459.25,126.0 v1.7M460.06,126.0 v1.7M460.77,126.0 v1.7" stroke="#000" stroke-width="0.85" fill="none" />
<path d="M403.0,115.80 h-1.8M403.0,105.61 h-1.8M403.0,95.41 h-1.8M403.0,85.22 h-1.8" stroke="#111" stroke-width="0.8" fill="none" />
<line x1="420.6" y1="79.1" x2="420.6" y2="126.0" stroke="#111" stroke-width="1.4" stroke-dasharray="2 1"/>
<rect x="403.0" y="79.1" width="61.39999999999998" height="46.900000000000006" fill="none" stroke="#000" stroke-width="1.5" />
<clipPath id="hc02"><rect x="181.2" y="138.8" width="61.60000000000002" height="47.19999999999999"/></clipPath>
<g clip-path="url(#hc02)">
<path d="M219.82,186.00 L219.82,184.27 L220.39,179.95 L221.83,179.23 L222.12,170.58 L223.27,169.86 L223.85,164.10 L224.71,163.38 L225.29,154.73 L226.44,154.01 L228.17,152.57 L228.61,144.65 L229.18,140.03 L229.76,144.65 L230.48,153.29 L231.49,154.01 L232.21,159.05 L233.22,164.10 L234.08,169.86 L234.80,174.90 L235.52,178.65 L236.53,184.27 L236.53,186.00 Z" stroke="none" stroke-width="0" fill="#7d7d7d" />
<path d="M216.36,186.00 L216.36,184.27 L216.36,180.67 L218.37,180.67 L218.37,184.27 L220.25,184.27 L220.68,180.67 L222.12,179.95 L222.41,171.30 L223.56,170.58 L224.14,165.54 L225.00,164.82 L225.58,159.78 L226.44,159.05 L227.16,162.66 L227.88,157.61 L228.61,156.17 L229.18,157.61 L229.76,161.22 L230.33,157.61 L231.05,159.05 L231.78,162.66 L232.78,166.26 L233.65,171.30 L234.37,176.06 L235.09,179.52 L236.10,184.27 L236.10,186.00 Z" stroke="none" stroke-width="0" fill="#262626" opacity="0.95"/>
<path d="M227.16,162.16 V173.16M229.76,160.72 V172.37" stroke="#fff" stroke-width="0.55" fill="none" opacity="0.4"/>
</g>
<path d="M184.20,186.0 v2.6M188.38,186.0 v1.7M190.83,186.0 v1.7M192.57,186.0 v1.7M193.92,186.0 v1.7M195.02,186.0 v1.7M195.95,186.0 v1.7M196.75,186.0 v1.7M197.46,186.0 v1.7M198.10,186.0 v2.6M202.28,186.0 v1.7M204.73,186.0 v1.7M206.47,186.0 v1.7M207.82,186.0 v1.7M208.92,186.0 v1.7M209.85,186.0 v1.7M210.65,186.0 v1.7M211.36,186.0 v1.7M212.00,186.0 v2.6M216.18,186.0 v1.7M218.63,186.0 v1.7M220.37,186.0 v1.7M221.72,186.0 v1.7M222.82,186.0 v1.7M223.75,186.0 v1.7M224.55,186.0 v1.7M225.26,186.0 v1.7M225.90,186.0 v2.6M230.08,186.0 v1.7M232.53,186.0 v1.7M234.27,186.0 v1.7M235.62,186.0 v1.7M236.72,186.0 v1.7M237.65,186.0 v1.7M238.45,186.0 v1.7M239.16,186.0 v1.7" stroke="#000" stroke-width="0.85" fill="none" />
<path d="M181.2,175.74 h-1.8M181.2,165.48 h-1.8M181.2,155.22 h-1.8M181.2,144.96 h-1.8" stroke="#111" stroke-width="0.8" fill="none" />
<line x1="198.8" y1="138.8" x2="198.8" y2="186.0" stroke="#111" stroke-width="1.4" stroke-dasharray="2 1"/>
<rect x="181.2" y="138.8" width="61.60000000000002" height="47.19999999999999" fill="none" stroke="#000" stroke-width="1.5" />
<clipPath id="hc12"><rect x="255.8" y="138.8" width="62.0" height="47.19999999999999"/></clipPath>
<g clip-path="url(#hc12)">
<path d="M298.22,186.00 L298.22,184.27 L298.80,157.61 L299.38,147.53 L300.10,144.65 L300.82,148.97 L301.54,146.09 L302.26,140.32 L302.98,139.46 L303.70,141.76 L304.42,150.41 L305.14,159.05 L305.86,164.82 L306.58,169.14 L307.30,174.90 L308.31,180.67 L309.18,184.27 L309.18,186.00 Z" stroke="none" stroke-width="0" fill="#7d7d7d" />
<path d="M278.05,186.00 L278.05,184.27 L278.05,181.39 L279.49,181.39 L279.49,184.27 L280.93,184.27 L280.93,181.39 L283.53,181.39 L283.53,184.27 L286.41,184.27 L286.84,172.02 L287.56,171.30 L288.14,179.23 L289.29,177.79 L290.44,172.02 L291.45,171.30 L292.17,177.79 L292.89,176.35 L293.61,159.05 L294.33,157.61 L295.05,164.82 L295.78,163.38 L296.50,154.01 L297.50,153.29 L298.22,160.50 L298.95,156.17 L299.67,157.61 L300.39,167.70 L301.11,173.46 L301.97,179.23 L302.55,184.27 L302.55,186.00 Z" stroke="none" stroke-width="0" fill="#262626" opacity="0.95"/>
<path d="M288.14,178.73 V182.28M292.17,177.29 V181.48M295.05,164.32 V174.35M298.22,160.00 V171.97" stroke="#fff" stroke-width="0.55" fill="none" opacity="0.4"/>
</g>
<path d="M258.80,186.0 v2.6M263.01,186.0 v1.7M265.48,186.0 v1.7M267.23,186.0 v1.7M268.59,186.0 v1.7M269.69,186.0 v1.7M270.63,186.0 v1.7M271.44,186.0 v1.7M272.16,186.0 v1.7M272.80,186.0 v2.6M277.01,186.0 v1.7M279.48,186.0 v1.7M281.23,186.0 v1.7M282.59,186.0 v1.7M283.69,186.0 v1.7M284.63,186.0 v1.7M285.44,186.0 v1.7M286.16,186.0 v1.7M286.80,186.0 v2.6M291.01,186.0 v1.7M293.48,186.0 v1.7M295.23,186.0 v1.7M296.59,186.0 v1.7M297.69,186.0 v1.7M298.63,186.0 v1.7M299.44,186.0 v1.7M300.16,186.0 v1.7M300.80,186.0 v2.6M305.01,186.0 v1.7M307.48,186.0 v1.7M309.23,186.0 v1.7M310.59,186.0 v1.7M311.69,186.0 v1.7M312.63,186.0 v1.7M313.44,186.0 v1.7M314.16,186.0 v1.7" stroke="#000" stroke-width="0.85" fill="none" />
<path d="M255.8,175.74 h-1.8M255.8,165.48 h-1.8M255.8,155.22 h-1.8M255.8,144.96 h-1.8" stroke="#111" stroke-width="0.8" fill="none" />
<line x1="272.8" y1="138.8" x2="272.8" y2="186.0" stroke="#111" stroke-width="1.4" stroke-dasharray="2 1"/>
<rect x="255.8" y="138.8" width="62.0" height="47.19999999999999" fill="none" stroke="#000" stroke-width="1.5" />
<clipPath id="hc22"><rect x="329.2" y="138.8" width="61.80000000000001" height="47.19999999999999"/></clipPath>
<g clip-path="url(#hc22)">
<path d="M368.69,186.00 L368.69,184.27 L368.69,176.35 L371.57,176.35 L371.57,166.98 L375.89,166.98 L375.89,156.89 L377.77,156.89 L377.77,138.88 L379.50,138.88 L379.50,156.89 L381.66,156.89 L381.66,166.98 L384.25,166.98 L384.83,179.23 L385.55,184.27 L385.55,186.00 Z" stroke="none" stroke-width="0" fill="#6a6a6a" />
<path d="M361.20,186.00 L361.20,184.27 L361.20,176.35 L362.20,176.35 L362.20,184.27 L368.98,184.27 L368.98,176.63 L371.86,176.63 L373.73,176.63 L373.73,166.98 L375.89,166.98 L375.89,156.89 L377.77,156.89 L377.77,138.88 L379.50,138.88 L379.50,156.89 L381.66,156.89 L381.66,166.98 L382.67,166.98 L382.67,184.27 L382.67,186.00 Z" stroke="none" stroke-width="0" fill="#262626" opacity="0.95"/>
</g>
<path d="M332.20,186.0 v2.6M336.40,186.0 v1.7M338.86,186.0 v1.7M340.60,186.0 v1.7M341.95,186.0 v1.7M343.06,186.0 v1.7M343.99,186.0 v1.7M344.80,186.0 v1.7M345.51,186.0 v1.7M346.15,186.0 v2.6M350.35,186.0 v1.7M352.81,186.0 v1.7M354.55,186.0 v1.7M355.90,186.0 v1.7M357.01,186.0 v1.7M357.94,186.0 v1.7M358.75,186.0 v1.7M359.46,186.0 v1.7M360.10,186.0 v2.6M364.30,186.0 v1.7M366.76,186.0 v1.7M368.50,186.0 v1.7M369.85,186.0 v1.7M370.96,186.0 v1.7M371.89,186.0 v1.7M372.70,186.0 v1.7M373.41,186.0 v1.7M374.05,186.0 v2.6M378.25,186.0 v1.7M380.71,186.0 v1.7M382.45,186.0 v1.7M383.80,186.0 v1.7M384.91,186.0 v1.7M385.84,186.0 v1.7M386.65,186.0 v1.7M387.36,186.0 v1.7" stroke="#000" stroke-width="0.85" fill="none" />
<path d="M329.2,175.74 h-1.8M329.2,165.48 h-1.8M329.2,155.22 h-1.8M329.2,144.96 h-1.8" stroke="#111" stroke-width="0.8" fill="none" />
<line x1="346.4" y1="138.8" x2="346.4" y2="186.0" stroke="#111" stroke-width="1.4" stroke-dasharray="2 1"/>
<rect x="329.2" y="138.8" width="61.80000000000001" height="47.19999999999999" fill="none" stroke="#000" stroke-width="1.5" />
<clipPath id="hc32"><rect x="403.0" y="138.8" width="61.39999999999998" height="47.19999999999999"/></clipPath>
<g clip-path="url(#hc32)">
<path d="M443.10,186.00 L443.10,184.27 L443.82,164.82 L445.26,159.05 L446.70,151.85 L447.85,148.97 L448.86,146.09 L449.58,143.20 L450.30,139.46 L451.02,146.09 L451.74,153.29 L452.46,159.05 L453.18,163.38 L453.90,169.14 L455.06,173.46 L456.07,174.90 L457.07,177.79 L458.23,181.39 L459.38,184.27 L459.38,186.00 Z" stroke="none" stroke-width="0" fill="#7d7d7d" />
<path d="M419.61,186.00 L419.61,184.27 L420.04,181.39 L421.05,181.39 L421.48,184.27 L427.25,184.27 L427.25,180.96 L428.69,180.96 L428.69,184.27 L431.57,184.27 L431.57,181.82 L435.17,181.82 L435.17,184.27 L438.05,184.27 L438.05,177.79 L439.50,177.07 L440.22,172.02 L440.94,171.30 L441.37,160.50 L441.95,159.78 L442.38,170.58 L443.39,173.46 L444.11,172.02 L444.83,168.42 L445.55,169.14 L446.12,176.35 L447.42,177.79 L448.86,180.67 L450.30,184.27 L450.30,186.00 Z" stroke="none" stroke-width="0" fill="#262626" opacity="0.95"/>
<path d="M443.39,172.96 V179.11" stroke="#fff" stroke-width="0.55" fill="none" opacity="0.4"/>
</g>
<path d="M406.00,186.0 v2.6M410.17,186.0 v1.7M412.61,186.0 v1.7M414.34,186.0 v1.7M415.68,186.0 v1.7M416.78,186.0 v1.7M417.70,186.0 v1.7M418.51,186.0 v1.7M419.22,186.0 v1.7M419.85,186.0 v2.6M424.02,186.0 v1.7M426.46,186.0 v1.7M428.19,186.0 v1.7M429.53,186.0 v1.7M430.63,186.0 v1.7M431.55,186.0 v1.7M432.36,186.0 v1.7M433.07,186.0 v1.7M433.70,186.0 v2.6M437.87,186.0 v1.7M440.31,186.0 v1.7M442.04,186.0 v1.7M443.38,186.0 v1.7M444.48,186.0 v1.7M445.40,186.0 v1.7M446.21,186.0 v1.7M446.92,186.0 v1.7M447.55,186.0 v2.6M451.72,186.0 v1.7M454.16,186.0 v1.7M455.89,186.0 v1.7M457.23,186.0 v1.7M458.33,186.0 v1.7M459.25,186.0 v1.7M460.06,186.0 v1.7M460.77,186.0 v1.7" stroke="#000" stroke-width="0.85" fill="none" />
<path d="M403.0,175.74 h-1.8M403.0,165.48 h-1.8M403.0,155.22 h-1.8M403.0,144.96 h-1.8" stroke="#111" stroke-width="0.8" fill="none" />
<line x1="421.2" y1="138.8" x2="421.2" y2="186.0" stroke="#111" stroke-width="1.4" stroke-dasharray="2 1"/>
<rect x="403.0" y="138.8" width="61.39999999999998" height="47.19999999999999" fill="none" stroke="#000" stroke-width="1.5" />
<text x="468.8" y="21.0" font-size="10" font-weight="normal" text-anchor="start"  >BM</text>
<text x="468.8" y="32.2" font-size="10" font-weight="normal" text-anchor="start"  >neutrophils</text>
<text x="468.8" y="86.3" font-size="10" font-weight="normal" text-anchor="start"  >Myeloid</text>
<text x="468.8" y="98.0" font-size="10" font-weight="normal" text-anchor="start"  >progenitors</text>
<text x="468.8" y="147.0" font-size="10" font-weight="normal" text-anchor="start"  >LSK</text>
<text x="181.5" y="199.5" font-size="10" font-weight="normal" text-anchor="start"  word-spacing="-1.4">E-selectin binding</text>
<line x1="267.8" y1="197.2" x2="312" y2="197.2" stroke="#000" stroke-width="1.5" />
<path d="M310.0,194.2 L316.9,197.2 L310.0,200.2 Z" stroke="none" stroke-width="0" fill="#000" />
<text x="1.0" y="222.3" font-size="11" font-weight="bold" text-anchor="start"  >C</text>
<text x="74.5" y="230.0" font-size="11" font-weight="bold" text-anchor="middle"  >BM neutrophils</text>
<line x1="42.6" y1="253.1" x2="42.6" y2="349.3" stroke="#000" stroke-width="1.2" />
<line x1="42.1" y1="348.8" x2="117.5" y2="348.8" stroke="#000" stroke-width="1.2" />
<line x1="39.6" y1="348.8" x2="42.6" y2="348.8" stroke="#000" stroke-width="1.0" />
<text x="38.300000000000004" y="351.536" font-size="7.6" font-weight="normal" text-anchor="end"  style="stroke-width:0.15px">0.0</text>
<line x1="39.6" y1="332.93333333333334" x2="42.6" y2="332.93333333333334" stroke="#000" stroke-width="1.0" />
<text x="38.300000000000004" y="335.6693333333333" font-size="7.6" font-weight="normal" text-anchor="end"  style="stroke-width:0.15px">0.2</text>
<line x1="39.6" y1="317.06666666666666" x2="42.6" y2="317.06666666666666" stroke="#000" stroke-width="1.0" />
<text x="38.300000000000004" y="319.80266666666665" font-size="7.6" font-weight="normal" text-anchor="end"  style="stroke-width:0.15px">0.4</text>
<line x1="39.6" y1="301.2" x2="42.6" y2="301.2" stroke="#000" stroke-width="1.0" />
<text x="38.300000000000004" y="303.936" font-size="7.6" font-weight="normal" text-anchor="end"  style="stroke-width:0.15px">0.6</text>
<line x1="39.6" y1="285.3333333333333" x2="42.6" y2="285.3333333333333" stroke="#000" stroke-width="1.0" />
<text x="38.300000000000004" y="288.0693333333333" font-size="7.6" font-weight="normal" text-anchor="end"  style="stroke-width:0.15px">0.8</text>
<line x1="39.6" y1="269.46666666666664" x2="42.6" y2="269.46666666666664" stroke="#000" stroke-width="1.0" />
<text x="38.300000000000004" y="272.20266666666663" font-size="7.6" font-weight="normal" text-anchor="end"  style="stroke-width:0.15px">1.0</text>
<line x1="39.6" y1="253.59999999999997" x2="42.6" y2="253.59999999999997" stroke="#000" stroke-width="1.0" />
<text x="38.300000000000004" y="256.33599999999996" font-size="7.6" font-weight="normal" text-anchor="end"  style="stroke-width:0.15px">1.2</text>
<line x1="53.15" y1="278.0346666666667" x2="53.15" y2="277.162" stroke="#222" stroke-width="1.1" />
<line x1="50.15" y1="277.162" x2="56.15" y2="277.162" stroke="#222" stroke-width="1.1" />
<rect x="46.9" y="278.0346666666667" width="12.5" height="70.76533333333333" fill="#fff" stroke="#000" stroke-width="1.25" />
<line x1="70.1" y1="294.85333333333335" x2="70.1" y2="293.66333333333336" stroke="#222" stroke-width="1.1" />
<line x1="67.1" y1="293.66333333333336" x2="73.1" y2="293.66333333333336" stroke="#222" stroke-width="1.1" />
<rect x="64.0" y="294.85333333333335" width="12.200000000000003" height="53.94666666666666" fill="#fff" stroke="none" stroke-width="0" />
<rect x="64.0" y="294.85333333333335" width="12.200000000000003" height="53.94666666666666" fill="url(#hatch)" stroke="#000" stroke-width="1.25" />
<line x1="87.25" y1="330.95" x2="87.25" y2="328.57" stroke="#222" stroke-width="1.1" />
<line x1="84.25" y1="328.57" x2="90.25" y2="328.57" stroke="#222" stroke-width="1.1" />
<rect x="81.3" y="330.95" width="11.900000000000006" height="17.850000000000023" fill="#6e6e6e" stroke="#000" stroke-width="1.25" />
<rect x="97.8" y="335.71" width="12.0" height="13.090000000000032" fill="#000" stroke="#000" stroke-width="1.25" />
<text transform="translate(15.2,299.8) rotate(-90)" font-size="10" font-weight="normal" text-anchor="middle" word-spacing="-1.4" letter-spacing="-0.05">E-selectin binding</text>
<path d="M53.7,267.6 V263.3 H97.5 V268.5 M70.4,263.3 V267.6 M89.2,271 V268.5 H105.2 V271" stroke="#000" stroke-width="1.25" fill="none" />
<text x="72.5" y="262.1" font-size="9.7" font-weight="normal" text-anchor="middle"  style="stroke-width:0.22px">***</text>
<path d="M69.6,287.2 V284.4 H93.6 V287.4 M86.3,289.6 V287.4 H101.7 V289.6" stroke="#000" stroke-width="1.25" fill="none" />
<text x="80" y="283.5" font-size="9.7" font-weight="normal" text-anchor="middle"  style="stroke-width:0.22px">***</text>
<path d="M87.3,318.4 V316 H103 V318.4" stroke="#000" stroke-width="1.25" fill="none" />
<text x="95.3" y="311.6" font-size="9.5" font-weight="normal" text-anchor="middle"  style="stroke-width:0.1px">n.s.</text>
<text x="188.4" y="223.8" font-size="11" font-weight="bold" text-anchor="middle"  >Myeloid</text>
<text x="188.4" y="236.3" font-size="11" font-weight="bold" text-anchor="middle"  >progenitors</text>
<line x1="152.2" y1="253.1" x2="152.2" y2="349.3" stroke="#000" stroke-width="1.2" />
<line x1="151.7" y1="348.8" x2="226.3" y2="348.8" stroke="#000" stroke-width="1.2" />
<line x1="149.2" y1="348.8" x2="152.2" y2="348.8" stroke="#000" stroke-width="1.0" />
<text x="148.29999999999998" y="351.536" font-size="7.6" font-weight="normal" text-anchor="end"  style="stroke-width:0.15px">0.0</text>
<line x1="149.2" y1="332.93333333333334" x2="152.2" y2="332.93333333333334" stroke="#000" stroke-width="1.0" />
<text x="148.29999999999998" y="335.6693333333333" font-size="7.6" font-weight="normal" text-anchor="end"  style="stroke-width:0.15px">0.2</text>
<line x1="149.2" y1="317.06666666666666" x2="152.2" y2="317.06666666666666" stroke="#000" stroke-width="1.0" />
<text x="148.29999999999998" y="319.80266666666665" font-size="7.6" font-weight="normal" text-anchor="end"  style="stroke-width:0.15px">0.4</text>
<line x1="149.2" y1="301.2" x2="152.2" y2="301.2" stroke="#000" stroke-width="1.0" />
<text x="148.29999999999998" y="303.936" font-size="7.6" font-weight="normal" text-anchor="end"  style="stroke-width:0.15px">0.6</text>
<line x1="149.2" y1="285.3333333333333" x2="152.2" y2="285.3333333333333" stroke="#000" stroke-width="1.0" />
<text x="148.29999999999998" y="288.0693333333333" font-size="7.6" font-weight="normal" text-anchor="end"  style="stroke-width:0.15px">0.8</text>
<line x1="149.2" y1="269.46666666666664" x2="152.2" y2="269.46666666666664" stroke="#000" stroke-width="1.0" />
<text x="148.29999999999998" y="272.20266666666663" font-size="7.6" font-weight="normal" text-anchor="end"  style="stroke-width:0.15px">1.0</text>
<line x1="149.2" y1="253.59999999999997" x2="152.2" y2="253.59999999999997" stroke="#000" stroke-width="1.0" />
<text x="148.29999999999998" y="256.33599999999996" font-size="7.6" font-weight="normal" text-anchor="end"  style="stroke-width:0.15px">1.2</text>
<line x1="162.5" y1="264.70666666666665" x2="162.5" y2="263.51666666666665" stroke="#222" stroke-width="1.1" />
<line x1="159.5" y1="263.51666666666665" x2="165.5" y2="263.51666666666665" stroke="#222" stroke-width="1.1" />
<rect x="156.4" y="264.70666666666665" width="12.199999999999989" height="84.09333333333336" fill="#fff" stroke="#000" stroke-width="1.25" />
<line x1="179.3" y1="298.82" x2="179.3" y2="298.02666666666664" stroke="#222" stroke-width="1.1" />
<line x1="176.3" y1="298.02666666666664" x2="182.3" y2="298.02666666666664" stroke="#222" stroke-width="1.1" />
<rect x="173.2" y="298.82" width="12.200000000000017" height="49.98000000000002" fill="#fff" stroke="none" stroke-width="0" />
<rect x="173.2" y="298.82" width="12.200000000000017" height="49.98000000000002" fill="url(#hatch)" stroke="#000" stroke-width="1.25" />
<line x1="196.3" y1="294.21866666666665" x2="196.3" y2="289.69666666666666" stroke="#222" stroke-width="1.1" />
<line x1="193.3" y1="289.69666666666666" x2="199.3" y2="289.69666666666666" stroke="#222" stroke-width="1.1" />
<rect x="190.2" y="294.21866666666665" width="12.200000000000017" height="54.58133333333336" fill="#6e6e6e" stroke="#000" stroke-width="1.25" />
<line x1="213.3" y1="312.862" x2="213.3" y2="310.8786666666667" stroke="#222" stroke-width="1.1" />
<line x1="210.3" y1="310.8786666666667" x2="216.3" y2="310.8786666666667" stroke="#222" stroke-width="1.1" />
<rect x="207.2" y="312.862" width="12.200000000000017" height="35.93799999999999" fill="#000" stroke="#000" stroke-width="1.25" />
<text transform="translate(130.2,299.8) rotate(-90)" font-size="10" font-weight="normal" text-anchor="middle" word-spacing="-1.4" letter-spacing="-0.05">E-selectin binding</text>
<path d="M161.7,261.9 V257.5 H206.3 V262.9 M179,257.5 V261.9 M198.3,265.2 V262.9 H213.7 V265.2" stroke="#000" stroke-width="1.25" fill="none" />
<text x="181.8" y="256.5" font-size="9.7" font-weight="normal" text-anchor="middle"  style="stroke-width:0.22px">***</text>
<path d="M178.1,279.6 V275.0 H213.7 V279.6" stroke="#000" stroke-width="1.25" fill="none" />
<text x="195.6" y="276.0" font-size="9.7" font-weight="normal" text-anchor="middle"  style="stroke-width:0.22px">*</text>
<path d="M196.9,285.6 V283.4 H213.1 V285.6" stroke="#000" stroke-width="1.25" fill="none" />
<text x="205" y="283.1" font-size="9.7" font-weight="normal" text-anchor="middle"  style="stroke-width:0.22px">**</text>
<text x="287.5" y="230.0" font-size="11" font-weight="bold" text-anchor="middle"  >LSK</text>
<line x1="256.2" y1="253.1" x2="256.2" y2="349.3" stroke="#000" stroke-width="1.2" />
<line x1="255.7" y1="348.8" x2="332.5" y2="348.8" stroke="#000" stroke-width="1.2" />
<line x1="253.2" y1="348.8" x2="256.2" y2="348.8" stroke="#000" stroke-width="1.0" />
<text x="252.7" y="351.536" font-size="7.6" font-weight="normal" text-anchor="end"  style="stroke-width:0.15px">0.0</text>
<line x1="253.2" y1="317.06666666666666" x2="256.2" y2="317.06666666666666" stroke="#000" stroke-width="1.0" />
<text x="252.7" y="319.80266666666665" font-size="7.6" font-weight="normal" text-anchor="end"  style="stroke-width:0.15px">0.5</text>
<line x1="253.2" y1="285.3333333333333" x2="256.2" y2="285.3333333333333" stroke="#000" stroke-width="1.0" />
<text x="252.7" y="288.0693333333333" font-size="7.6" font-weight="normal" text-anchor="end"  style="stroke-width:0.15px">1.0</text>
<line x1="253.2" y1="253.6" x2="256.2" y2="253.6" stroke="#000" stroke-width="1.0" />
<text x="252.7" y="256.336" font-size="7.6" font-weight="normal" text-anchor="end"  style="stroke-width:0.15px">1.5</text>
<line x1="267.5" y1="268.832" x2="267.5" y2="258.36" stroke="#222" stroke-width="1.1" />
<line x1="263.9" y1="258.36" x2="271.1" y2="258.36" stroke="#222" stroke-width="1.1" />
<rect x="261.4" y="268.832" width="12.200000000000045" height="79.96800000000002" fill="#fff" stroke="#000" stroke-width="1.25" />
<line x1="284.29999999999995" y1="312.624" x2="284.29999999999995" y2="310.0853333333333" stroke="#222" stroke-width="1.1" />
<line x1="281.29999999999995" y1="310.0853333333333" x2="287.29999999999995" y2="310.0853333333333" stroke="#222" stroke-width="1.1" />
<rect x="278.2" y="312.624" width="12.199999999999989" height="36.17599999999999" fill="#fff" stroke="none" stroke-width="0" />
<rect x="278.2" y="312.624" width="12.199999999999989" height="36.17599999999999" fill="url(#hatch)" stroke="#000" stroke-width="1.25" />
<line x1="301.5" y1="293.26666666666665" x2="301.5" y2="286.92" stroke="#222" stroke-width="1.1" />
<line x1="298.1" y1="286.92" x2="304.9" y2="286.92" stroke="#222" stroke-width="1.1" />
<rect x="295.2" y="293.26666666666665" width="12.600000000000023" height="55.53333333333336" fill="#6e6e6e" stroke="#000" stroke-width="1.25" />
<rect x="312.2" y="323.096" width="12.199999999999989" height="25.704000000000008" fill="#000" stroke="#000" stroke-width="1.25" />
<text transform="translate(239.4,299.8) rotate(-90)" font-size="10" font-weight="normal" text-anchor="middle" word-spacing="-1.4" letter-spacing="-0.05">E-selectin binding</text>
<path d="M267.1,256.3 V252.1 H301.7 V257.7 M285,259.9 V257.7 H319.6 V259.9" stroke="#000" stroke-width="1.25" fill="none" />
<text x="286.6" y="250.7" font-size="9.7" font-weight="normal" text-anchor="middle"  style="stroke-width:0.22px">***</text>
<path d="M283.1,274.7 V270.0 H318.7 V274.7" stroke="#000" stroke-width="1.25" fill="none" />
<text x="300.7" y="267.0" font-size="9.5" font-weight="normal" text-anchor="middle"  style="stroke-width:0.1px">n.s.</text>
<text x="336.8" y="222.4" font-size="11" font-weight="bold" text-anchor="start"  >D</text>
<text x="415.4" y="230.0" font-size="11" font-weight="bold" text-anchor="middle"  >LSK</text>
<line x1="381.5" y1="253.1" x2="381.5" y2="349.3" stroke="#000" stroke-width="1.2" />
<line x1="381.0" y1="348.8" x2="458.0" y2="348.8" stroke="#000" stroke-width="1.2" />
<line x1="378.5" y1="348.8" x2="381.5" y2="348.8" stroke="#000" stroke-width="1.0" />
<text x="377.9" y="351.536" font-size="7.6" font-weight="normal" text-anchor="end"  style="stroke-width:0.15px">0.0</text>
<line x1="378.5" y1="317.06666666666666" x2="381.5" y2="317.06666666666666" stroke="#000" stroke-width="1.0" />
<text x="377.9" y="319.80266666666665" font-size="7.6" font-weight="normal" text-anchor="end"  style="stroke-width:0.15px">0.5</text>
<line x1="378.5" y1="285.3333333333333" x2="381.5" y2="285.3333333333333" stroke="#000" stroke-width="1.0" />
<text x="377.9" y="288.0693333333333" font-size="7.6" font-weight="normal" text-anchor="end"  style="stroke-width:0.15px">1.0</text>
<line x1="378.5" y1="253.6" x2="381.5" y2="253.6" stroke="#000" stroke-width="1.0" />
<text x="377.9" y="256.336" font-size="7.6" font-weight="normal" text-anchor="end"  style="stroke-width:0.15px">1.5</text>
<line x1="392.5" y1="279.6213333333333" x2="392.5" y2="276.76533333333333" stroke="#222" stroke-width="1.1" />
<line x1="389.5" y1="276.76533333333333" x2="395.5" y2="276.76533333333333" stroke="#222" stroke-width="1.1" />
<rect x="386.4" y="279.6213333333333" width="12.200000000000045" height="69.17866666666669" fill="#fff" stroke="#000" stroke-width="1.25" />
<line x1="409.6" y1="278.0346666666667" x2="409.6" y2="277.0826666666667" stroke="#222" stroke-width="1.1" />
<line x1="406.6" y1="277.0826666666667" x2="412.6" y2="277.0826666666667" stroke="#222" stroke-width="1.1" />
<rect x="403.2" y="278.0346666666667" width="12.800000000000011" height="70.76533333333333" fill="#fff" stroke="none" stroke-width="0" />
<rect x="403.2" y="278.0346666666667" width="12.800000000000011" height="70.76533333333333" fill="url(#hatch)" stroke="#000" stroke-width="1.25" />
<line x1="426.70000000000005" y1="338.0106666666667" x2="426.70000000000005" y2="337.37600000000003" stroke="#222" stroke-width="1.1" />
<line x1="423.70000000000005" y1="337.37600000000003" x2="429.70000000000005" y2="337.37600000000003" stroke="#222" stroke-width="1.1" />
<rect x="420.6" y="338.0106666666667" width="12.199999999999989" height="10.789333333333332" fill="#6e6e6e" stroke="#000" stroke-width="1.25" />
<line x1="443.70000000000005" y1="339.28000000000003" x2="443.70000000000005" y2="338.6453333333333" stroke="#222" stroke-width="1.1" />
<line x1="440.70000000000005" y1="338.6453333333333" x2="446.70000000000005" y2="338.6453333333333" stroke="#222" stroke-width="1.1" />
<rect x="437.6" y="339.28000000000003" width="12.199999999999989" height="9.519999999999982" fill="#000" stroke="#000" stroke-width="1.25" />
<text transform="translate(363.8,299.8) rotate(-90)" font-size="10" font-weight="normal" text-anchor="middle" word-spacing="-1.4" letter-spacing="-0.05">P-selectin binding</text>
<path d="M392.3,268 V265.7 H409.4 V268 M401.8,265.7 V262.4 H436.5 V265.7 M427.2,268 V265.7 H443.7 V268" stroke="#000" stroke-width="1.25" fill="none" />
<text x="416.8" y="262.3" font-size="9.7" font-weight="normal" text-anchor="middle"  style="stroke-width:0.22px">***</text>
<rect x="462.2" y="243.3" width="7.8" height="7.0" fill="#fff" stroke="#000" stroke-width="1.3" />
<rect x="462.2" y="253.5" width="7.8" height="7.0" fill="url(#hatchS)" stroke="#000" stroke-width="1.3" />
<rect x="462.2" y="263.7" width="7.8" height="7.0" fill="#6e6e6e" stroke="#000" stroke-width="1.3" />
<rect x="462.2" y="273.9" width="7.8" height="7.0" fill="#000" stroke="#000" stroke-width="1.3" />
<text x="472.0" y="249.4" font-size="9" font-weight="normal" text-anchor="start"  style="stroke-width:0.12px">WT</text>
<text x="472.0" y="259.7" font-size="9" font-weight="normal" text-anchor="start"  style="stroke-width:0.12px">ESL-1<tspan font-size="5.94" dy="-2.16">–/–</tspan></text>
<text x="472.0" y="270.0" font-size="9" font-weight="normal" text-anchor="start"  style="stroke-width:0.12px">PSGL-1<tspan font-size="5.94" dy="-2.16">–/–</tspan></text>
<text x="472.0" y="280.3" font-size="9" font-weight="normal" text-anchor="start"  style="stroke-width:0.12px">DKO</text>
</svg></body></html>
